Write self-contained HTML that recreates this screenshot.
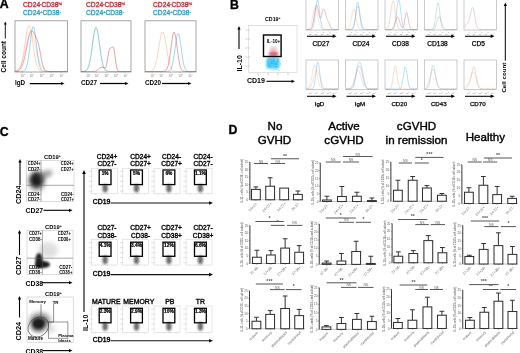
<!DOCTYPE html>
<html><head><meta charset="utf-8"><style>
html,body{margin:0;padding:0;background:#fff;}
body{width:520px;height:353px;overflow:hidden;}
svg{display:block;font-family:"Liberation Sans", sans-serif;filter:blur(0.4px);}
</style></head><body>
<svg width="520" height="353" viewBox="0 0 520 353">
<defs>
<filter id="blur08" x="-50%" y="-50%" width="200%" height="200%"><feGaussianBlur stdDeviation="0.8"/></filter>
<filter id="blur1" x="-50%" y="-50%" width="200%" height="200%"><feGaussianBlur stdDeviation="1.2"/></filter>
<filter id="blur2" x="-50%" y="-50%" width="200%" height="200%"><feGaussianBlur stdDeviation="2"/></filter>
</defs>
<rect width="520" height="353" fill="#fff"/>
<text x="-0.3" y="8.4" font-size="12.3" font-weight="bold" fill="#000" text-anchor="start" stroke="#000" stroke-width="0.35">A</text>
<text x="23" y="7.4" font-size="6.7" fill="#c42a34" stroke="#c42a34" stroke-width="0.3">CD24<tspan font-size="4" dy="-2.4">-</tspan><tspan dy="2.4">CD38</tspan><tspan font-size="4" dy="-2.4">hi</tspan></text>
<text x="23" y="15" font-size="6.7" fill="#2a9ccc" stroke="#2a9ccc" stroke-width="0.3">CD24<tspan font-size="4" dy="-2.4">+</tspan><tspan dy="2.4">CD38</tspan><tspan font-size="4" dy="-2.4">-</tspan></text>
<rect x="15" y="20.8" width="52.5" height="51.2" stroke="#808080" stroke-width="0.7" fill="none"/>
<line x1="22.35" y1="72" x2="22.35" y2="73.2" stroke="#999" stroke-width="0.5"/>
<text x="20.75" y="76.60" font-size="2.8" fill="#777">10<tspan font-size="1.96" dy="-1.2">0</tspan></text>
<line x1="31.275" y1="72" x2="31.275" y2="73.2" stroke="#999" stroke-width="0.5"/>
<text x="29.67" y="76.60" font-size="2.8" fill="#777">10<tspan font-size="1.96" dy="-1.2">1</tspan></text>
<line x1="41.25" y1="72" x2="41.25" y2="73.2" stroke="#999" stroke-width="0.5"/>
<text x="39.65" y="76.60" font-size="2.8" fill="#777">10<tspan font-size="1.96" dy="-1.2">2</tspan></text>
<line x1="51.224999999999994" y1="72" x2="51.224999999999994" y2="73.2" stroke="#999" stroke-width="0.5"/>
<text x="49.62" y="76.60" font-size="2.8" fill="#777">10<tspan font-size="1.96" dy="-1.2">3</tspan></text>
<line x1="61.2" y1="72" x2="61.2" y2="73.2" stroke="#999" stroke-width="0.5"/>
<text x="59.60" y="76.60" font-size="2.8" fill="#777">10<tspan font-size="1.96" dy="-1.2">4</tspan></text>
<text x="15" y="84.5" font-size="6.3" font-weight="bold" fill="#000" text-anchor="start">IgD</text>
<text x="86" y="7.4" font-size="6.7" fill="#c42a34" stroke="#c42a34" stroke-width="0.3">CD24<tspan font-size="4" dy="-2.4">-</tspan><tspan dy="2.4">CD38</tspan><tspan font-size="4" dy="-2.4">hi</tspan></text>
<text x="86" y="15" font-size="6.7" fill="#2a9ccc" stroke="#2a9ccc" stroke-width="0.3">CD24<tspan font-size="4" dy="-2.4">+</tspan><tspan dy="2.4">CD38</tspan><tspan font-size="4" dy="-2.4">-</tspan></text>
<rect x="81" y="20.8" width="50" height="51.2" stroke="#808080" stroke-width="0.7" fill="none"/>
<line x1="88.0" y1="72" x2="88.0" y2="73.2" stroke="#999" stroke-width="0.5"/>
<text x="86.40" y="76.60" font-size="2.8" fill="#777">10<tspan font-size="1.96" dy="-1.2">0</tspan></text>
<line x1="96.5" y1="72" x2="96.5" y2="73.2" stroke="#999" stroke-width="0.5"/>
<text x="94.90" y="76.60" font-size="2.8" fill="#777">10<tspan font-size="1.96" dy="-1.2">1</tspan></text>
<line x1="106.0" y1="72" x2="106.0" y2="73.2" stroke="#999" stroke-width="0.5"/>
<text x="104.40" y="76.60" font-size="2.8" fill="#777">10<tspan font-size="1.96" dy="-1.2">2</tspan></text>
<line x1="115.5" y1="72" x2="115.5" y2="73.2" stroke="#999" stroke-width="0.5"/>
<text x="113.90" y="76.60" font-size="2.8" fill="#777">10<tspan font-size="1.96" dy="-1.2">3</tspan></text>
<line x1="125.0" y1="72" x2="125.0" y2="73.2" stroke="#999" stroke-width="0.5"/>
<text x="123.40" y="76.60" font-size="2.8" fill="#777">10<tspan font-size="1.96" dy="-1.2">4</tspan></text>
<text x="81" y="84.5" font-size="6.3" font-weight="bold" fill="#000" text-anchor="start">CD27</text>
<text x="153" y="7.4" font-size="6.7" fill="#c42a34" stroke="#c42a34" stroke-width="0.3">CD24<tspan font-size="4" dy="-2.4">-</tspan><tspan dy="2.4">CD38</tspan><tspan font-size="4" dy="-2.4">hi</tspan></text>
<text x="153" y="15" font-size="6.7" fill="#2a9ccc" stroke="#2a9ccc" stroke-width="0.3">CD24<tspan font-size="4" dy="-2.4">+</tspan><tspan dy="2.4">CD38</tspan><tspan font-size="4" dy="-2.4">-</tspan></text>
<rect x="145" y="20.8" width="51" height="51.2" stroke="#808080" stroke-width="0.7" fill="none"/>
<line x1="152.14" y1="72" x2="152.14" y2="73.2" stroke="#999" stroke-width="0.5"/>
<text x="150.54" y="76.60" font-size="2.8" fill="#777">10<tspan font-size="1.96" dy="-1.2">0</tspan></text>
<line x1="160.81" y1="72" x2="160.81" y2="73.2" stroke="#999" stroke-width="0.5"/>
<text x="159.21" y="76.60" font-size="2.8" fill="#777">10<tspan font-size="1.96" dy="-1.2">1</tspan></text>
<line x1="170.5" y1="72" x2="170.5" y2="73.2" stroke="#999" stroke-width="0.5"/>
<text x="168.90" y="76.60" font-size="2.8" fill="#777">10<tspan font-size="1.96" dy="-1.2">2</tspan></text>
<line x1="180.19" y1="72" x2="180.19" y2="73.2" stroke="#999" stroke-width="0.5"/>
<text x="178.59" y="76.60" font-size="2.8" fill="#777">10<tspan font-size="1.96" dy="-1.2">3</tspan></text>
<line x1="189.88" y1="72" x2="189.88" y2="73.2" stroke="#999" stroke-width="0.5"/>
<text x="188.28" y="76.60" font-size="2.8" fill="#777">10<tspan font-size="1.96" dy="-1.2">4</tspan></text>
<text x="145" y="84.5" font-size="6.3" font-weight="bold" fill="#000" text-anchor="start">CD20</text>
<path d="M15.00,71.42 L15.66,71.35 L16.31,71.25 L16.97,71.07 L17.62,70.80 L18.28,70.38 L18.94,69.76 L19.59,68.88 L20.25,67.65 L20.91,65.99 L21.56,63.84 L22.22,61.14 L22.88,57.88 L23.53,54.08 L24.19,49.83 L24.84,45.28 L25.50,40.65 L26.16,36.19 L26.81,32.19 L27.47,28.94 L28.12,26.68 L28.78,25.60 L29.44,25.78 L30.09,27.20 L30.75,29.76 L31.41,33.25 L32.06,37.40 L32.72,41.94 L33.38,46.57 L34.03,51.06 L34.69,55.20 L35.34,58.85 L36.00,61.96 L36.66,64.50 L37.31,66.50 L37.97,68.03 L38.62,69.16 L39.28,69.96 L39.94,70.52 L40.59,70.89 L41.25,71.13 L41.91,71.28 L42.56,71.38 L43.22,71.43 L43.88,71.46 L44.53,71.48 L45.19,71.49 L45.84,71.50 L46.50,71.50 L47.16,71.50 L47.81,71.50 L48.47,71.50 L49.12,71.50 L49.78,71.50 L50.44,71.50 L51.09,71.50 L51.75,71.50 L52.41,71.50 L53.06,71.50 L53.72,71.50 L54.38,71.50 L55.03,71.50 L55.69,71.50 L56.34,71.50 L57.00,71.50 L57.66,71.50 L58.31,71.50 L58.97,71.50 L59.62,71.50 L60.28,71.50 L60.94,71.50 L61.59,71.50 L62.25,71.50 L62.91,71.50 L63.56,71.50 L64.22,71.50 L64.88,71.50 L65.53,71.50 L66.19,71.50 L66.84,71.50 L67.50,71.50" fill="none" stroke="#f0a060" stroke-width="0.6" opacity="0.7"/>
<path d="M15.00,71.50 L15.66,71.50 L16.31,71.50 L16.97,71.50 L17.62,71.50 L18.28,71.50 L18.94,71.50 L19.59,71.50 L20.25,71.49 L20.91,71.48 L21.56,71.45 L22.22,71.40 L22.88,71.29 L23.53,71.10 L24.19,70.76 L24.84,70.18 L25.50,69.26 L26.16,67.85 L26.81,65.80 L27.47,62.98 L28.12,59.30 L28.78,54.79 L29.44,49.57 L30.09,43.94 L30.75,38.35 L31.41,33.31 L32.06,29.37 L32.72,27.00 L33.38,26.50 L34.03,27.92 L34.69,31.09 L35.34,35.62 L36.00,41.00 L36.66,46.67 L37.31,52.15 L37.97,57.05 L38.62,61.18 L39.28,64.44 L39.94,66.87 L40.59,68.60 L41.25,69.76 L41.91,70.50 L42.56,70.95 L43.22,71.21 L43.88,71.35 L44.53,71.43 L45.19,71.47 L45.84,71.49 L46.50,71.49 L47.16,71.50 L47.81,71.50 L48.47,71.50 L49.12,71.50 L49.78,71.50 L50.44,71.50 L51.09,71.50 L51.75,71.50 L52.41,71.50 L53.06,71.50 L53.72,71.50 L54.38,71.50 L55.03,71.50 L55.69,71.50 L56.34,71.50 L57.00,71.50 L57.66,71.50 L58.31,71.50 L58.97,71.50 L59.62,71.50 L60.28,71.50 L60.94,71.50 L61.59,71.50 L62.25,71.50 L62.91,71.50 L63.56,71.50 L64.22,71.50 L64.88,71.50 L65.53,71.50 L66.19,71.50 L66.84,71.50 L67.50,71.50" fill="none" stroke="#2a9ccc" stroke-width="0.6" opacity="0.7"/>
<path d="M15.00,71.41 L15.66,71.35 L16.31,71.27 L16.97,71.14 L17.62,70.95 L18.28,70.68 L18.94,70.31 L19.59,69.79 L20.25,69.10 L20.91,68.20 L21.56,67.04 L22.22,65.58 L22.88,63.81 L23.53,61.68 L24.19,59.22 L24.84,56.43 L25.50,53.35 L26.16,50.07 L26.81,46.68 L27.47,43.29 L28.12,40.06 L28.78,37.12 L29.44,34.62 L30.09,32.67 L30.75,31.35 L31.41,30.70 L32.06,30.70 L32.72,31.25 L33.38,32.22 L34.03,33.43 L34.69,34.73 L35.34,36.01 L36.00,37.26 L36.66,38.57 L37.31,40.08 L37.97,41.98 L38.62,44.41 L39.28,47.39 L39.94,50.83 L40.59,54.49 L41.25,58.12 L41.91,61.46 L42.56,64.31 L43.22,66.58 L43.88,68.28 L44.53,69.48 L45.19,70.27 L45.84,70.78 L46.50,71.08 L47.16,71.26 L47.81,71.37 L48.47,71.42 L49.12,71.46 L49.78,71.48 L50.44,71.49 L51.09,71.49 L51.75,71.50 L52.41,71.50 L53.06,71.50 L53.72,71.50 L54.38,71.50 L55.03,71.50 L55.69,71.50 L56.34,71.50 L57.00,71.50 L57.66,71.50 L58.31,71.50 L58.97,71.50 L59.62,71.50 L60.28,71.50 L60.94,71.50 L61.59,71.50 L62.25,71.50 L62.91,71.50 L63.56,71.50 L64.22,71.50 L64.88,71.50 L65.53,71.50 L66.19,71.50 L66.84,71.50 L67.50,71.50" fill="none" stroke="#c42a34" stroke-width="0.6" opacity="0.7"/>
<path d="M15.00,71.07 L15.66,70.88 L16.31,70.62 L16.97,70.27 L17.62,69.81 L18.28,69.21 L18.94,68.44 L19.59,67.47 L20.25,66.29 L20.91,64.86 L21.56,63.17 L22.22,61.22 L22.88,59.00 L23.53,56.54 L24.19,53.87 L24.84,51.05 L25.50,48.15 L26.16,45.25 L26.81,42.44 L27.47,39.83 L28.12,37.52 L28.78,35.61 L29.44,34.18 L30.09,33.30 L30.75,33.00 L31.41,33.30 L32.06,34.18 L32.72,35.61 L33.38,37.52 L34.03,39.83 L34.69,42.44 L35.34,45.25 L36.00,48.15 L36.66,51.05 L37.31,53.87 L37.97,56.54 L38.62,59.00 L39.28,61.22 L39.94,63.17 L40.59,64.86 L41.25,66.29 L41.91,67.47 L42.56,68.44 L43.22,69.21 L43.88,69.81 L44.53,70.27 L45.19,70.62 L45.84,70.88 L46.50,71.07 L47.16,71.21 L47.81,71.30 L48.47,71.37 L49.12,71.42 L49.78,71.45 L50.44,71.47 L51.09,71.48 L51.75,71.49 L52.41,71.49 L53.06,71.50 L53.72,71.50 L54.38,71.50 L55.03,71.50 L55.69,71.50 L56.34,71.50 L57.00,71.50 L57.66,71.50 L58.31,71.50 L58.97,71.50 L59.62,71.50 L60.28,71.50 L60.94,71.50 L61.59,71.50 L62.25,71.50 L62.91,71.50 L63.56,71.50 L64.22,71.50 L64.88,71.50 L65.53,71.50 L66.19,71.50 L66.84,71.50 L67.50,71.50" fill="none" stroke="#d88090" stroke-width="0.5" opacity="0.5"/>
<path d="M81.00,71.50 L81.62,71.49 L82.25,71.48 L82.88,71.46 L83.50,71.42 L84.12,71.36 L84.75,71.25 L85.38,71.06 L86.00,70.75 L86.62,70.28 L87.25,69.56 L87.88,68.51 L88.50,67.05 L89.12,65.08 L89.75,62.53 L90.38,59.35 L91.00,55.57 L91.62,51.26 L92.25,46.60 L92.88,41.83 L93.50,37.25 L94.12,33.21 L94.75,30.03 L95.38,28.00 L96.00,27.30 L96.62,28.00 L97.25,30.03 L97.88,33.21 L98.50,37.25 L99.12,41.83 L99.75,46.60 L100.38,51.26 L101.00,55.57 L101.62,59.35 L102.25,62.53 L102.88,65.08 L103.50,67.05 L104.12,68.51 L104.75,69.56 L105.38,70.28 L106.00,70.75 L106.62,71.06 L107.25,71.25 L107.88,71.36 L108.50,71.42 L109.12,71.46 L109.75,71.48 L110.38,71.49 L111.00,71.50 L111.62,71.50 L112.25,71.50 L112.88,71.50 L113.50,71.50 L114.12,71.50 L114.75,71.50 L115.38,71.50 L116.00,71.50 L116.62,71.50 L117.25,71.50 L117.88,71.50 L118.50,71.50 L119.12,71.50 L119.75,71.50 L120.38,71.50 L121.00,71.50 L121.62,71.50 L122.25,71.50 L122.88,71.50 L123.50,71.50 L124.12,71.50 L124.75,71.50 L125.38,71.50 L126.00,71.50 L126.62,71.50 L127.25,71.50 L127.88,71.50 L128.50,71.50 L129.12,71.50 L129.75,71.50 L130.38,71.50 L131.00,71.50" fill="none" stroke="#2a9ccc" stroke-width="0.6" opacity="0.7"/>
<path d="M81.00,71.49 L81.62,71.47 L82.25,71.45 L82.88,71.40 L83.50,71.33 L84.12,71.21 L84.75,71.02 L85.38,70.71 L86.00,70.26 L86.62,69.59 L87.25,68.64 L87.88,67.34 L88.50,65.61 L89.12,63.40 L89.75,60.65 L90.38,57.38 L91.00,53.62 L91.62,49.47 L92.25,45.12 L92.88,40.76 L93.50,36.67 L94.12,33.11 L94.75,30.35 L95.38,28.60 L96.00,28.00 L96.62,28.60 L97.25,30.35 L97.88,33.11 L98.50,36.67 L99.12,40.76 L99.75,45.12 L100.38,49.47 L101.00,53.62 L101.62,57.38 L102.25,60.65 L102.88,63.40 L103.50,65.61 L104.12,67.34 L104.75,68.64 L105.38,69.59 L106.00,70.26 L106.62,70.71 L107.25,71.02 L107.88,71.21 L108.50,71.33 L109.12,71.40 L109.75,71.45 L110.38,71.47 L111.00,71.49 L111.62,71.49 L112.25,71.50 L112.88,71.50 L113.50,71.50 L114.12,71.50 L114.75,71.50 L115.38,71.50 L116.00,71.50 L116.62,71.50 L117.25,71.50 L117.88,71.50 L118.50,71.50 L119.12,71.50 L119.75,71.50 L120.38,71.50 L121.00,71.50 L121.62,71.50 L122.25,71.50 L122.88,71.50 L123.50,71.50 L124.12,71.50 L124.75,71.50 L125.38,71.50 L126.00,71.50 L126.62,71.50 L127.25,71.50 L127.88,71.50 L128.50,71.50 L129.12,71.50 L129.75,71.50 L130.38,71.50 L131.00,71.50" fill="none" stroke="#6cc08a" stroke-width="0.5" opacity="0.6"/>
<path d="M81.00,71.50 L81.62,71.50 L82.25,71.50 L82.88,71.50 L83.50,71.50 L84.12,71.50 L84.75,71.50 L85.38,71.50 L86.00,71.50 L86.62,71.50 L87.25,71.50 L87.88,71.50 L88.50,71.50 L89.12,71.50 L89.75,71.50 L90.38,71.50 L91.00,71.49 L91.62,71.49 L92.25,71.48 L92.88,71.46 L93.50,71.42 L94.12,71.36 L94.75,71.26 L95.38,71.12 L96.00,70.91 L96.62,70.62 L97.25,70.25 L97.88,69.80 L98.50,69.28 L99.12,68.73 L99.75,68.19 L100.38,67.71 L101.00,67.35 L101.62,67.15 L102.25,67.13 L102.88,67.27 L103.50,67.55 L104.12,67.84 L104.75,67.95 L105.38,67.59 L106.00,66.42 L106.62,64.17 L107.25,60.86 L107.88,56.93 L108.50,53.15 L109.12,50.29 L109.75,48.65 L110.38,48.02 L111.00,47.82 L111.62,47.54 L112.25,47.05 L112.88,46.80 L113.50,47.56 L114.12,49.98 L114.75,54.02 L115.38,58.91 L116.00,63.54 L116.62,67.11 L117.25,69.39 L117.88,70.62 L118.50,71.18 L119.12,71.40 L119.75,71.47 L120.38,71.49 L121.00,71.50 L121.62,71.50 L122.25,71.50 L122.88,71.50 L123.50,71.50 L124.12,71.50 L124.75,71.50 L125.38,71.50 L126.00,71.50 L126.62,71.50 L127.25,71.50 L127.88,71.50 L128.50,71.50 L129.12,71.50 L129.75,71.50 L130.38,71.50 L131.00,71.50" fill="none" stroke="#c42a34" stroke-width="0.6" opacity="0.7"/>
<path d="M145.00,71.50 L145.64,71.50 L146.28,71.50 L146.91,71.49 L147.55,71.48 L148.19,71.47 L148.82,71.44 L149.46,71.40 L150.10,71.32 L150.74,71.19 L151.38,70.99 L152.01,70.67 L152.65,70.20 L153.29,69.52 L153.93,68.56 L154.56,67.26 L155.20,65.55 L155.84,63.39 L156.47,60.73 L157.11,57.61 L157.75,54.06 L158.39,50.22 L159.03,46.23 L159.66,42.32 L160.30,38.73 L160.94,35.70 L161.57,33.46 L162.21,32.20 L162.85,32.00 L163.49,32.89 L164.12,34.79 L164.76,37.56 L165.40,40.98 L166.04,44.80 L166.68,48.79 L167.31,52.71 L167.95,56.38 L168.59,59.66 L169.22,62.49 L169.86,64.83 L170.50,66.70 L171.14,68.13 L171.78,69.21 L172.41,69.98 L173.05,70.52 L173.69,70.89 L174.32,71.13 L174.96,71.28 L175.60,71.37 L176.24,71.43 L176.88,71.46 L177.51,71.48 L178.15,71.49 L178.79,71.49 L179.43,71.50 L180.06,71.50 L180.70,71.50 L181.34,71.50 L181.97,71.50 L182.61,71.50 L183.25,71.50 L183.89,71.50 L184.53,71.50 L185.16,71.50 L185.80,71.50 L186.44,71.50 L187.07,71.50 L187.71,71.50 L188.35,71.50 L188.99,71.50 L189.62,71.50 L190.26,71.50 L190.90,71.50 L191.54,71.50 L192.18,71.50 L192.81,71.50 L193.45,71.50 L194.09,71.50 L194.72,71.50 L195.36,71.50 L196.00,71.50" fill="none" stroke="#f0a060" stroke-width="0.6" opacity="0.7"/>
<path d="M145.00,71.50 L145.64,71.50 L146.28,71.50 L146.91,71.50 L147.55,71.50 L148.19,71.50 L148.82,71.50 L149.46,71.50 L150.10,71.50 L150.74,71.50 L151.38,71.50 L152.01,71.50 L152.65,71.50 L153.29,71.50 L153.93,71.50 L154.56,71.50 L155.20,71.50 L155.84,71.50 L156.47,71.50 L157.11,71.50 L157.75,71.50 L158.39,71.50 L159.03,71.50 L159.66,71.50 L160.30,71.50 L160.94,71.50 L161.57,71.49 L162.21,71.48 L162.85,71.45 L163.49,71.40 L164.12,71.30 L164.76,71.12 L165.40,70.79 L166.04,70.25 L166.68,69.38 L167.31,68.07 L167.95,66.19 L168.59,63.62 L169.22,60.30 L169.86,56.25 L170.50,51.63 L171.14,46.71 L171.78,41.88 L172.41,37.62 L173.05,34.38 L173.69,32.57 L174.32,32.40 L174.96,33.90 L175.60,36.87 L176.24,40.97 L176.88,45.72 L177.51,50.66 L178.15,55.37 L178.79,59.54 L179.43,63.01 L180.06,65.73 L180.70,67.75 L181.34,69.16 L181.97,70.11 L182.61,70.70 L183.25,71.06 L183.89,71.27 L184.53,71.39 L185.16,71.45 L185.80,71.47 L186.44,71.49 L187.07,71.50 L187.71,71.50 L188.35,71.50 L188.99,71.50 L189.62,71.50 L190.26,71.50 L190.90,71.50 L191.54,71.50 L192.18,71.50 L192.81,71.50 L193.45,71.50 L194.09,71.50 L194.72,71.50 L195.36,71.50 L196.00,71.50" fill="none" stroke="#c42a34" stroke-width="0.6" opacity="0.7"/>
<path d="M145.00,71.50 L145.64,71.50 L146.28,71.50 L146.91,71.50 L147.55,71.50 L148.19,71.50 L148.82,71.50 L149.46,71.50 L150.10,71.50 L150.74,71.50 L151.38,71.50 L152.01,71.50 L152.65,71.50 L153.29,71.50 L153.93,71.50 L154.56,71.50 L155.20,71.50 L155.84,71.50 L156.47,71.50 L157.11,71.50 L157.75,71.50 L158.39,71.50 L159.03,71.50 L159.66,71.50 L160.30,71.50 L160.94,71.50 L161.57,71.50 L162.21,71.50 L162.85,71.50 L163.49,71.50 L164.12,71.50 L164.76,71.50 L165.40,71.49 L166.04,71.48 L166.68,71.47 L167.31,71.43 L167.95,71.35 L168.59,71.21 L169.22,70.96 L169.86,70.52 L170.50,69.82 L171.14,68.74 L171.78,67.14 L172.41,64.91 L173.05,61.97 L173.69,58.31 L174.32,54.01 L174.96,49.30 L175.60,44.51 L176.24,40.08 L176.88,36.48 L177.51,34.12 L178.15,33.30 L178.79,34.12 L179.43,36.48 L180.06,40.08 L180.70,44.51 L181.34,49.30 L181.97,54.01 L182.61,58.31 L183.25,61.97 L183.89,64.91 L184.53,67.14 L185.16,68.74 L185.80,69.82 L186.44,70.52 L187.07,70.96 L187.71,71.21 L188.35,71.35 L188.99,71.43 L189.62,71.47 L190.26,71.48 L190.90,71.49 L191.54,71.50 L192.18,71.50 L192.81,71.50 L193.45,71.50 L194.09,71.50 L194.72,71.50 L195.36,71.50 L196.00,71.50" fill="none" stroke="#2a9ccc" stroke-width="0.6" opacity="0.7"/>
<text x="6" y="72.4" font-size="6.5" font-weight="bold" fill="#000" text-anchor="start" transform="rotate(-90 6 72.4)">Cell count</text>
<line x1="5.3" y1="38.5" x2="5.3" y2="24.0" stroke="#000" stroke-width="0.9"/>
<path d="M5.3,21.5 L3.9,24.5 L6.699999999999999,24.5 Z" fill="#000"/>
<line x1="29.8" y1="83.5" x2="61.5" y2="83.5" stroke="#000" stroke-width="1.25"/>
<path d="M64.5,83.5 L61.0,81.9 L61.0,85.1 Z" fill="#000"/>
<line x1="100" y1="83.5" x2="125.5" y2="83.5" stroke="#000" stroke-width="1.25"/>
<path d="M128.5,83.5 L125.0,81.9 L125.0,85.1 Z" fill="#000"/>
<line x1="162" y1="83.5" x2="188.5" y2="83.5" stroke="#000" stroke-width="1.25"/>
<path d="M191.5,83.5 L188.0,81.9 L188.0,85.1 Z" fill="#000"/>
<text x="230" y="9.3" font-size="12.3" font-weight="bold" fill="#000" text-anchor="start" stroke="#000" stroke-width="0.35">B</text>
<text x="265" y="21" font-size="5.3" font-weight="bold">CD19<tspan font-size="3.4" dy="-2">+</tspan></text>
<rect x="248.5" y="25.5" width="48.5" height="47" stroke="#c8c8c8" stroke-width="0.5" fill="none"/>
<rect x="266.5" y="57.5" width="13" height="11" rx="3" fill="#34c2f0" filter="url(#blur08)"/>
<rect x="269.45" y="64.30" width="0.8" height="0.8" fill="#9ee0f8"/>
<rect x="271.36" y="65.05" width="0.8" height="0.8" fill="#9ee0f8"/>
<rect x="275.07" y="58.32" width="0.8" height="0.8" fill="#9ee0f8"/>
<rect x="266.19" y="67.97" width="0.8" height="0.8" fill="#9ee0f8"/>
<rect x="269.76" y="60.43" width="0.8" height="0.8" fill="#9ee0f8"/>
<rect x="280.44" y="63.38" width="0.8" height="0.8" fill="#9ee0f8"/>
<rect x="278.13" y="63.45" width="0.8" height="0.8" fill="#9ee0f8"/>
<rect x="275.27" y="59.38" width="0.8" height="0.8" fill="#9ee0f8"/>
<rect x="275.21" y="68.35" width="0.8" height="0.8" fill="#9ee0f8"/>
<rect x="273.59" y="66.77" width="0.8" height="0.8" fill="#9ee0f8"/>
<rect x="275.74" y="58.30" width="0.8" height="0.8" fill="#9ee0f8"/>
<rect x="276.99" y="64.89" width="0.8" height="0.8" fill="#9ee0f8"/>
<rect x="270.37" y="57.89" width="0.8" height="0.8" fill="#9ee0f8"/>
<rect x="278.55" y="63.41" width="0.8" height="0.8" fill="#9ee0f8"/>
<rect x="276.42" y="68.49" width="0.8" height="0.8" fill="#9ee0f8"/>
<rect x="276.35" y="69.01" width="0.8" height="0.8" fill="#9ee0f8"/>
<rect x="271.73" y="67.51" width="0.8" height="0.8" fill="#9ee0f8"/>
<rect x="272.45" y="69.19" width="0.8" height="0.8" fill="#9ee0f8"/>
<rect x="278.74" y="58.72" width="0.8" height="0.8" fill="#9ee0f8"/>
<rect x="267.97" y="60.21" width="0.8" height="0.8" fill="#9ee0f8"/>
<rect x="280.00" y="62.95" width="0.8" height="0.8" fill="#9ee0f8"/>
<rect x="275.09" y="61.26" width="0.8" height="0.8" fill="#9ee0f8"/>
<rect x="273.36" y="62.32" width="0.8" height="0.8" fill="#9ee0f8"/>
<rect x="271.09" y="64.81" width="0.8" height="0.8" fill="#9ee0f8"/>
<rect x="274.47" y="68.80" width="0.8" height="0.8" fill="#9ee0f8"/>
<rect x="275.89" y="69.11" width="0.8" height="0.8" fill="#9ee0f8"/>
<rect x="278.42" y="69.89" width="0.8" height="0.8" fill="#9ee0f8"/>
<rect x="275.73" y="59.54" width="0.8" height="0.8" fill="#9ee0f8"/>
<rect x="278.48" y="69.56" width="0.8" height="0.8" fill="#9ee0f8"/>
<rect x="279.12" y="64.61" width="0.8" height="0.8" fill="#9ee0f8"/>
<rect x="276.35" y="60.14" width="0.8" height="0.8" fill="#9ee0f8"/>
<rect x="278.06" y="64.67" width="0.8" height="0.8" fill="#9ee0f8"/>
<rect x="270.13" y="58.29" width="0.8" height="0.8" fill="#9ee0f8"/>
<rect x="278.38" y="69.87" width="0.8" height="0.8" fill="#9ee0f8"/>
<rect x="267.28" y="67.51" width="0.8" height="0.8" fill="#9ee0f8"/>
<rect x="271.95" y="59.38" width="0.8" height="0.8" fill="#9ee0f8"/>
<rect x="270.26" y="67.11" width="0.8" height="0.8" fill="#9ee0f8"/>
<rect x="278.66" y="58.05" width="0.8" height="0.8" fill="#9ee0f8"/>
<rect x="274.91" y="58.06" width="0.8" height="0.8" fill="#9ee0f8"/>
<rect x="276.42" y="61.64" width="0.8" height="0.8" fill="#9ee0f8"/>
<rect x="278.77" y="69.76" width="0.8" height="0.8" fill="#9ee0f8"/>
<rect x="273.33" y="69.98" width="0.8" height="0.8" fill="#9ee0f8"/>
<rect x="270.49" y="58.46" width="0.8" height="0.8" fill="#9ee0f8"/>
<rect x="274.70" y="57.89" width="0.8" height="0.8" fill="#9ee0f8"/>
<rect x="268.86" y="62.60" width="0.8" height="0.8" fill="#9ee0f8"/>
<rect x="274.85" y="59.45" width="0.8" height="0.8" fill="#9ee0f8"/>
<rect x="266.62" y="68.35" width="0.8" height="0.8" fill="#9ee0f8"/>
<rect x="270.55" y="69.48" width="0.8" height="0.8" fill="#9ee0f8"/>
<rect x="279.00" y="62.22" width="0.8" height="0.8" fill="#9ee0f8"/>
<rect x="272.68" y="64.00" width="0.8" height="0.8" fill="#9ee0f8"/>
<rect x="275.34" y="64.95" width="0.8" height="0.8" fill="#9ee0f8"/>
<rect x="274.11" y="65.25" width="0.8" height="0.8" fill="#9ee0f8"/>
<rect x="279.64" y="63.84" width="0.8" height="0.8" fill="#9ee0f8"/>
<rect x="272.25" y="66.50" width="0.8" height="0.8" fill="#9ee0f8"/>
<rect x="269.45" y="61.26" width="0.8" height="0.8" fill="#9ee0f8"/>
<rect x="280.18" y="64.01" width="0.8" height="0.8" fill="#9ee0f8"/>
<rect x="273.95" y="57.64" width="0.8" height="0.8" fill="#9ee0f8"/>
<rect x="272.02" y="64.75" width="0.8" height="0.8" fill="#9ee0f8"/>
<rect x="266.29" y="65.20" width="0.8" height="0.8" fill="#9ee0f8"/>
<rect x="275.17" y="58.25" width="0.8" height="0.8" fill="#9ee0f8"/>
<ellipse cx="273.5" cy="49.5" rx="4" ry="3" fill="#e8a0a8" opacity="0.55" filter="url(#blur08)"/>
<ellipse cx="273.5" cy="54" rx="4.8" ry="2.4" fill="#cc3048" opacity="0.75" filter="url(#blur08)"/>
<rect x="263.5" y="35" width="17.6" height="21.5" stroke="#000" stroke-width="1.4" fill="none"/>
<text x="266.8" y="42.5" font-size="4.6" font-weight="bold" fill="#000" text-anchor="start">IL-10+</text>
<line x1="248.5" y1="30" x2="250" y2="30" stroke="#999" stroke-width="0.5"/>
<rect x="245.5" y="29.5" width="2" height="1" fill="#ccc"/>
<line x1="248.5" y1="39" x2="250" y2="39" stroke="#999" stroke-width="0.5"/>
<rect x="245.5" y="38.5" width="2" height="1" fill="#ccc"/>
<line x1="248.5" y1="48" x2="250" y2="48" stroke="#999" stroke-width="0.5"/>
<rect x="245.5" y="47.5" width="2" height="1" fill="#ccc"/>
<line x1="248.5" y1="57" x2="250" y2="57" stroke="#999" stroke-width="0.5"/>
<rect x="245.5" y="56.5" width="2" height="1" fill="#ccc"/>
<line x1="248.5" y1="66" x2="250" y2="66" stroke="#999" stroke-width="0.5"/>
<rect x="245.5" y="65.5" width="2" height="1" fill="#ccc"/>
<rect x="257" y="73.5" width="2" height="1" fill="#ccc"/>
<rect x="267" y="73.5" width="2" height="1" fill="#ccc"/>
<rect x="277" y="73.5" width="2" height="1" fill="#ccc"/>
<rect x="287" y="73.5" width="2" height="1" fill="#ccc"/>
<line x1="239" y1="49" x2="239" y2="29.0" stroke="#000" stroke-width="1.1"/>
<path d="M239,26 L237.4,29.5 L240.6,29.5 Z" fill="#000"/>
<text x="241.7" y="71.5" font-size="7" font-weight="bold" fill="#000" text-anchor="start" transform="rotate(-90 241.7 71.5)">IL-10</text>
<text x="247" y="83.3" font-size="7" font-weight="bold" fill="#000" text-anchor="start">CD19</text>
<line x1="266.5" y1="81.3" x2="292.0" y2="81.3" stroke="#000" stroke-width="1.1"/>
<path d="M295,81.3 L291.5,79.7 L291.5,82.89999999999999 Z" fill="#000"/>
<rect x="306" y="-1" width="32.5" height="31" stroke="#a8a8a8" stroke-width="0.6" fill="none"/>
<rect x="306" y="60" width="32.5" height="29.5" stroke="#a8a8a8" stroke-width="0.6" fill="none"/>
<line x1="310.55" y1="30" x2="310.55" y2="31.2" stroke="#c0c0c0" stroke-width="0.5"/>
<text x="308.95" y="34.60" font-size="2.3" fill="#777">10<tspan font-size="1.61" dy="-1.2">0</tspan></text>
<line x1="316.075" y1="30" x2="316.075" y2="31.2" stroke="#c0c0c0" stroke-width="0.5"/>
<text x="314.47" y="34.60" font-size="2.3" fill="#777">10<tspan font-size="1.61" dy="-1.2">1</tspan></text>
<line x1="322.25" y1="30" x2="322.25" y2="31.2" stroke="#c0c0c0" stroke-width="0.5"/>
<text x="320.65" y="34.60" font-size="2.3" fill="#777">10<tspan font-size="1.61" dy="-1.2">2</tspan></text>
<line x1="328.425" y1="30" x2="328.425" y2="31.2" stroke="#c0c0c0" stroke-width="0.5"/>
<text x="326.82" y="34.60" font-size="2.3" fill="#777">10<tspan font-size="1.61" dy="-1.2">3</tspan></text>
<line x1="334.6" y1="30" x2="334.6" y2="31.2" stroke="#c0c0c0" stroke-width="0.5"/>
<text x="333.00" y="34.60" font-size="2.3" fill="#777">10<tspan font-size="1.61" dy="-1.2">4</tspan></text>
<line x1="310.55" y1="89.5" x2="310.55" y2="90.7" stroke="#c0c0c0" stroke-width="0.5"/>
<text x="308.95" y="94.10" font-size="2.3" fill="#777">10<tspan font-size="1.61" dy="-1.2">0</tspan></text>
<line x1="316.075" y1="89.5" x2="316.075" y2="90.7" stroke="#c0c0c0" stroke-width="0.5"/>
<text x="314.47" y="94.10" font-size="2.3" fill="#777">10<tspan font-size="1.61" dy="-1.2">1</tspan></text>
<line x1="322.25" y1="89.5" x2="322.25" y2="90.7" stroke="#c0c0c0" stroke-width="0.5"/>
<text x="320.65" y="94.10" font-size="2.3" fill="#777">10<tspan font-size="1.61" dy="-1.2">2</tspan></text>
<line x1="328.425" y1="89.5" x2="328.425" y2="90.7" stroke="#c0c0c0" stroke-width="0.5"/>
<text x="326.82" y="94.10" font-size="2.3" fill="#777">10<tspan font-size="1.61" dy="-1.2">3</tspan></text>
<line x1="334.6" y1="89.5" x2="334.6" y2="90.7" stroke="#c0c0c0" stroke-width="0.5"/>
<text x="333.00" y="94.10" font-size="2.3" fill="#777">10<tspan font-size="1.61" dy="-1.2">4</tspan></text>
<line x1="307" y1="36.3" x2="333.2" y2="36.3" stroke="#000" stroke-width="1.05"/>
<path d="M336.5,36.3 L332.7,34.599999999999994 L332.7,38.0 Z" fill="#000"/>
<line x1="307" y1="96.3" x2="333.2" y2="96.3" stroke="#000" stroke-width="1.05"/>
<path d="M336.5,96.3 L332.7,94.6 L332.7,98.0 Z" fill="#000"/>
<text x="321" y="46" font-size="6.6" fill="#000" text-anchor="middle" stroke="#000" stroke-width="0.25">CD27</text>
<text x="319.5" y="106" font-size="6.2" fill="#000" text-anchor="middle" stroke="#000" stroke-width="0.25">IgD</text>
<rect x="345.5" y="-1" width="32.5" height="31" stroke="#a8a8a8" stroke-width="0.6" fill="none"/>
<rect x="345.5" y="60" width="32.5" height="29.5" stroke="#a8a8a8" stroke-width="0.6" fill="none"/>
<line x1="350.05" y1="30" x2="350.05" y2="31.2" stroke="#c0c0c0" stroke-width="0.5"/>
<text x="348.45" y="34.60" font-size="2.3" fill="#777">10<tspan font-size="1.61" dy="-1.2">0</tspan></text>
<line x1="355.575" y1="30" x2="355.575" y2="31.2" stroke="#c0c0c0" stroke-width="0.5"/>
<text x="353.97" y="34.60" font-size="2.3" fill="#777">10<tspan font-size="1.61" dy="-1.2">1</tspan></text>
<line x1="361.75" y1="30" x2="361.75" y2="31.2" stroke="#c0c0c0" stroke-width="0.5"/>
<text x="360.15" y="34.60" font-size="2.3" fill="#777">10<tspan font-size="1.61" dy="-1.2">2</tspan></text>
<line x1="367.925" y1="30" x2="367.925" y2="31.2" stroke="#c0c0c0" stroke-width="0.5"/>
<text x="366.32" y="34.60" font-size="2.3" fill="#777">10<tspan font-size="1.61" dy="-1.2">3</tspan></text>
<line x1="374.1" y1="30" x2="374.1" y2="31.2" stroke="#c0c0c0" stroke-width="0.5"/>
<text x="372.50" y="34.60" font-size="2.3" fill="#777">10<tspan font-size="1.61" dy="-1.2">4</tspan></text>
<line x1="350.05" y1="89.5" x2="350.05" y2="90.7" stroke="#c0c0c0" stroke-width="0.5"/>
<text x="348.45" y="94.10" font-size="2.3" fill="#777">10<tspan font-size="1.61" dy="-1.2">0</tspan></text>
<line x1="355.575" y1="89.5" x2="355.575" y2="90.7" stroke="#c0c0c0" stroke-width="0.5"/>
<text x="353.97" y="94.10" font-size="2.3" fill="#777">10<tspan font-size="1.61" dy="-1.2">1</tspan></text>
<line x1="361.75" y1="89.5" x2="361.75" y2="90.7" stroke="#c0c0c0" stroke-width="0.5"/>
<text x="360.15" y="94.10" font-size="2.3" fill="#777">10<tspan font-size="1.61" dy="-1.2">2</tspan></text>
<line x1="367.925" y1="89.5" x2="367.925" y2="90.7" stroke="#c0c0c0" stroke-width="0.5"/>
<text x="366.32" y="94.10" font-size="2.3" fill="#777">10<tspan font-size="1.61" dy="-1.2">3</tspan></text>
<line x1="374.1" y1="89.5" x2="374.1" y2="90.7" stroke="#c0c0c0" stroke-width="0.5"/>
<text x="372.50" y="94.10" font-size="2.3" fill="#777">10<tspan font-size="1.61" dy="-1.2">4</tspan></text>
<line x1="346.5" y1="36.3" x2="372.7" y2="36.3" stroke="#000" stroke-width="1.05"/>
<path d="M376.0,36.3 L372.2,34.599999999999994 L372.2,38.0 Z" fill="#000"/>
<line x1="346.5" y1="96.3" x2="372.7" y2="96.3" stroke="#000" stroke-width="1.05"/>
<path d="M376.0,96.3 L372.2,94.6 L372.2,98.0 Z" fill="#000"/>
<text x="361" y="46" font-size="6.6" fill="#000" text-anchor="middle" stroke="#000" stroke-width="0.25">CD24</text>
<text x="360" y="106" font-size="6.2" fill="#000" text-anchor="middle" stroke="#000" stroke-width="0.25">IgM</text>
<rect x="385" y="-1" width="32.5" height="31" stroke="#a8a8a8" stroke-width="0.6" fill="none"/>
<rect x="385" y="60" width="32.5" height="29.5" stroke="#a8a8a8" stroke-width="0.6" fill="none"/>
<line x1="389.55" y1="30" x2="389.55" y2="31.2" stroke="#c0c0c0" stroke-width="0.5"/>
<text x="387.95" y="34.60" font-size="2.3" fill="#777">10<tspan font-size="1.61" dy="-1.2">0</tspan></text>
<line x1="395.075" y1="30" x2="395.075" y2="31.2" stroke="#c0c0c0" stroke-width="0.5"/>
<text x="393.47" y="34.60" font-size="2.3" fill="#777">10<tspan font-size="1.61" dy="-1.2">1</tspan></text>
<line x1="401.25" y1="30" x2="401.25" y2="31.2" stroke="#c0c0c0" stroke-width="0.5"/>
<text x="399.65" y="34.60" font-size="2.3" fill="#777">10<tspan font-size="1.61" dy="-1.2">2</tspan></text>
<line x1="407.425" y1="30" x2="407.425" y2="31.2" stroke="#c0c0c0" stroke-width="0.5"/>
<text x="405.82" y="34.60" font-size="2.3" fill="#777">10<tspan font-size="1.61" dy="-1.2">3</tspan></text>
<line x1="413.6" y1="30" x2="413.6" y2="31.2" stroke="#c0c0c0" stroke-width="0.5"/>
<text x="412.00" y="34.60" font-size="2.3" fill="#777">10<tspan font-size="1.61" dy="-1.2">4</tspan></text>
<line x1="389.55" y1="89.5" x2="389.55" y2="90.7" stroke="#c0c0c0" stroke-width="0.5"/>
<text x="387.95" y="94.10" font-size="2.3" fill="#777">10<tspan font-size="1.61" dy="-1.2">0</tspan></text>
<line x1="395.075" y1="89.5" x2="395.075" y2="90.7" stroke="#c0c0c0" stroke-width="0.5"/>
<text x="393.47" y="94.10" font-size="2.3" fill="#777">10<tspan font-size="1.61" dy="-1.2">1</tspan></text>
<line x1="401.25" y1="89.5" x2="401.25" y2="90.7" stroke="#c0c0c0" stroke-width="0.5"/>
<text x="399.65" y="94.10" font-size="2.3" fill="#777">10<tspan font-size="1.61" dy="-1.2">2</tspan></text>
<line x1="407.425" y1="89.5" x2="407.425" y2="90.7" stroke="#c0c0c0" stroke-width="0.5"/>
<text x="405.82" y="94.10" font-size="2.3" fill="#777">10<tspan font-size="1.61" dy="-1.2">3</tspan></text>
<line x1="413.6" y1="89.5" x2="413.6" y2="90.7" stroke="#c0c0c0" stroke-width="0.5"/>
<text x="412.00" y="94.10" font-size="2.3" fill="#777">10<tspan font-size="1.61" dy="-1.2">4</tspan></text>
<line x1="386" y1="36.3" x2="412.2" y2="36.3" stroke="#000" stroke-width="1.05"/>
<path d="M415.5,36.3 L411.7,34.599999999999994 L411.7,38.0 Z" fill="#000"/>
<line x1="386" y1="96.3" x2="412.2" y2="96.3" stroke="#000" stroke-width="1.05"/>
<path d="M415.5,96.3 L411.7,94.6 L411.7,98.0 Z" fill="#000"/>
<text x="400.5" y="46" font-size="6.6" fill="#000" text-anchor="middle" stroke="#000" stroke-width="0.25">CD38</text>
<text x="399.3" y="106" font-size="6.2" fill="#000" text-anchor="middle" stroke="#000" stroke-width="0.25">CD20</text>
<rect x="424.5" y="-1" width="32.5" height="31" stroke="#a8a8a8" stroke-width="0.6" fill="none"/>
<rect x="424.5" y="60" width="32.5" height="29.5" stroke="#a8a8a8" stroke-width="0.6" fill="none"/>
<line x1="429.05" y1="30" x2="429.05" y2="31.2" stroke="#c0c0c0" stroke-width="0.5"/>
<text x="427.45" y="34.60" font-size="2.3" fill="#777">10<tspan font-size="1.61" dy="-1.2">0</tspan></text>
<line x1="434.575" y1="30" x2="434.575" y2="31.2" stroke="#c0c0c0" stroke-width="0.5"/>
<text x="432.97" y="34.60" font-size="2.3" fill="#777">10<tspan font-size="1.61" dy="-1.2">1</tspan></text>
<line x1="440.75" y1="30" x2="440.75" y2="31.2" stroke="#c0c0c0" stroke-width="0.5"/>
<text x="439.15" y="34.60" font-size="2.3" fill="#777">10<tspan font-size="1.61" dy="-1.2">2</tspan></text>
<line x1="446.925" y1="30" x2="446.925" y2="31.2" stroke="#c0c0c0" stroke-width="0.5"/>
<text x="445.32" y="34.60" font-size="2.3" fill="#777">10<tspan font-size="1.61" dy="-1.2">3</tspan></text>
<line x1="453.1" y1="30" x2="453.1" y2="31.2" stroke="#c0c0c0" stroke-width="0.5"/>
<text x="451.50" y="34.60" font-size="2.3" fill="#777">10<tspan font-size="1.61" dy="-1.2">4</tspan></text>
<line x1="429.05" y1="89.5" x2="429.05" y2="90.7" stroke="#c0c0c0" stroke-width="0.5"/>
<text x="427.45" y="94.10" font-size="2.3" fill="#777">10<tspan font-size="1.61" dy="-1.2">0</tspan></text>
<line x1="434.575" y1="89.5" x2="434.575" y2="90.7" stroke="#c0c0c0" stroke-width="0.5"/>
<text x="432.97" y="94.10" font-size="2.3" fill="#777">10<tspan font-size="1.61" dy="-1.2">1</tspan></text>
<line x1="440.75" y1="89.5" x2="440.75" y2="90.7" stroke="#c0c0c0" stroke-width="0.5"/>
<text x="439.15" y="94.10" font-size="2.3" fill="#777">10<tspan font-size="1.61" dy="-1.2">2</tspan></text>
<line x1="446.925" y1="89.5" x2="446.925" y2="90.7" stroke="#c0c0c0" stroke-width="0.5"/>
<text x="445.32" y="94.10" font-size="2.3" fill="#777">10<tspan font-size="1.61" dy="-1.2">3</tspan></text>
<line x1="453.1" y1="89.5" x2="453.1" y2="90.7" stroke="#c0c0c0" stroke-width="0.5"/>
<text x="451.50" y="94.10" font-size="2.3" fill="#777">10<tspan font-size="1.61" dy="-1.2">4</tspan></text>
<line x1="425.5" y1="36.3" x2="451.7" y2="36.3" stroke="#000" stroke-width="1.05"/>
<path d="M455.0,36.3 L451.2,34.599999999999994 L451.2,38.0 Z" fill="#000"/>
<line x1="425.5" y1="96.3" x2="451.7" y2="96.3" stroke="#000" stroke-width="1.05"/>
<path d="M455.0,96.3 L451.2,94.6 L451.2,98.0 Z" fill="#000"/>
<text x="437.5" y="46" font-size="6.6" fill="#000" text-anchor="middle" stroke="#000" stroke-width="0.25">CD138</text>
<text x="438.8" y="106" font-size="6.2" fill="#000" text-anchor="middle" stroke="#000" stroke-width="0.25">CD43</text>
<rect x="464" y="-1" width="32.5" height="31" stroke="#a8a8a8" stroke-width="0.6" fill="none"/>
<rect x="464" y="60" width="32.5" height="29.5" stroke="#a8a8a8" stroke-width="0.6" fill="none"/>
<line x1="468.55" y1="30" x2="468.55" y2="31.2" stroke="#c0c0c0" stroke-width="0.5"/>
<text x="466.95" y="34.60" font-size="2.3" fill="#777">10<tspan font-size="1.61" dy="-1.2">0</tspan></text>
<line x1="474.075" y1="30" x2="474.075" y2="31.2" stroke="#c0c0c0" stroke-width="0.5"/>
<text x="472.47" y="34.60" font-size="2.3" fill="#777">10<tspan font-size="1.61" dy="-1.2">1</tspan></text>
<line x1="480.25" y1="30" x2="480.25" y2="31.2" stroke="#c0c0c0" stroke-width="0.5"/>
<text x="478.65" y="34.60" font-size="2.3" fill="#777">10<tspan font-size="1.61" dy="-1.2">2</tspan></text>
<line x1="486.425" y1="30" x2="486.425" y2="31.2" stroke="#c0c0c0" stroke-width="0.5"/>
<text x="484.82" y="34.60" font-size="2.3" fill="#777">10<tspan font-size="1.61" dy="-1.2">3</tspan></text>
<line x1="492.6" y1="30" x2="492.6" y2="31.2" stroke="#c0c0c0" stroke-width="0.5"/>
<text x="491.00" y="34.60" font-size="2.3" fill="#777">10<tspan font-size="1.61" dy="-1.2">4</tspan></text>
<line x1="468.55" y1="89.5" x2="468.55" y2="90.7" stroke="#c0c0c0" stroke-width="0.5"/>
<text x="466.95" y="94.10" font-size="2.3" fill="#777">10<tspan font-size="1.61" dy="-1.2">0</tspan></text>
<line x1="474.075" y1="89.5" x2="474.075" y2="90.7" stroke="#c0c0c0" stroke-width="0.5"/>
<text x="472.47" y="94.10" font-size="2.3" fill="#777">10<tspan font-size="1.61" dy="-1.2">1</tspan></text>
<line x1="480.25" y1="89.5" x2="480.25" y2="90.7" stroke="#c0c0c0" stroke-width="0.5"/>
<text x="478.65" y="94.10" font-size="2.3" fill="#777">10<tspan font-size="1.61" dy="-1.2">2</tspan></text>
<line x1="486.425" y1="89.5" x2="486.425" y2="90.7" stroke="#c0c0c0" stroke-width="0.5"/>
<text x="484.82" y="94.10" font-size="2.3" fill="#777">10<tspan font-size="1.61" dy="-1.2">3</tspan></text>
<line x1="492.6" y1="89.5" x2="492.6" y2="90.7" stroke="#c0c0c0" stroke-width="0.5"/>
<text x="491.00" y="94.10" font-size="2.3" fill="#777">10<tspan font-size="1.61" dy="-1.2">4</tspan></text>
<line x1="465" y1="36.3" x2="491.2" y2="36.3" stroke="#000" stroke-width="1.05"/>
<path d="M494.5,36.3 L490.7,34.599999999999994 L490.7,38.0 Z" fill="#000"/>
<line x1="465" y1="96.3" x2="491.2" y2="96.3" stroke="#000" stroke-width="1.05"/>
<path d="M494.5,96.3 L490.7,94.6 L490.7,98.0 Z" fill="#000"/>
<text x="478.3" y="46" font-size="6.6" fill="#000" text-anchor="middle" stroke="#000" stroke-width="0.25">CD5</text>
<text x="477.8" y="106" font-size="6.2" fill="#000" text-anchor="middle" stroke="#000" stroke-width="0.25">CD70</text>
<path d="M306.50,29.50 L306.89,29.50 L307.29,29.50 L307.68,29.50 L308.07,29.50 L308.47,29.50 L308.86,29.50 L309.26,29.49 L309.65,29.48 L310.04,29.46 L310.44,29.43 L310.83,29.36 L311.23,29.24 L311.62,29.04 L312.01,28.71 L312.41,28.20 L312.80,27.44 L313.19,26.35 L313.59,24.86 L313.98,22.90 L314.38,20.47 L314.77,17.58 L315.16,14.34 L315.56,10.92 L315.95,7.56 L316.34,4.52 L316.74,2.10 L317.13,0.54 L317.52,0.00 L317.92,0.54 L318.31,2.10 L318.71,4.52 L319.10,7.56 L319.49,10.92 L319.89,14.34 L320.28,17.58 L320.68,20.47 L321.07,22.90 L321.46,24.86 L321.86,26.35 L322.25,27.44 L322.64,28.20 L323.04,28.71 L323.43,29.04 L323.82,29.24 L324.22,29.36 L324.61,29.43 L325.01,29.46 L325.40,29.48 L325.79,29.49 L326.19,29.50 L326.58,29.50 L326.98,29.50 L327.37,29.50 L327.76,29.50 L328.16,29.50 L328.55,29.50 L328.94,29.50 L329.34,29.50 L329.73,29.50 L330.12,29.50 L330.52,29.50 L330.91,29.50 L331.31,29.50 L331.70,29.50 L332.09,29.50 L332.49,29.50 L332.88,29.50 L333.27,29.50 L333.67,29.50 L334.06,29.50 L334.46,29.50 L334.85,29.50 L335.24,29.50 L335.64,29.50 L336.03,29.50 L336.43,29.50 L336.82,29.50 L337.21,29.50 L337.61,29.50 L338.00,29.50" fill="none" stroke="#4eaedc" stroke-width="0.55" opacity="0.7"/>
<path d="M306.50,29.50 L306.89,29.50 L307.29,29.50 L307.68,29.49 L308.07,29.49 L308.47,29.47 L308.86,29.45 L309.26,29.40 L309.65,29.32 L310.04,29.20 L310.44,29.00 L310.83,28.68 L311.23,28.22 L311.62,27.56 L312.01,26.64 L312.41,25.42 L312.80,23.88 L313.19,21.98 L313.59,19.77 L313.98,17.29 L314.38,14.67 L314.77,12.05 L315.16,9.61 L315.56,7.53 L315.95,6.00 L316.34,5.13 L316.74,5.00 L317.13,5.60 L317.52,6.86 L317.92,8.61 L318.31,10.65 L318.71,12.77 L319.10,14.73 L319.49,16.33 L319.89,17.43 L320.28,17.92 L320.68,17.80 L321.07,17.09 L321.46,15.92 L321.86,14.43 L322.25,12.82 L322.64,11.29 L323.04,10.04 L323.43,9.23 L323.82,8.96 L324.22,9.27 L324.61,10.12 L325.01,11.40 L325.40,12.97 L325.79,14.65 L326.19,16.26 L326.58,17.69 L326.98,18.86 L327.37,19.80 L327.76,20.57 L328.16,21.28 L328.55,22.02 L328.94,22.86 L329.34,23.81 L329.73,24.84 L330.12,25.86 L330.52,26.81 L330.91,27.62 L331.31,28.26 L331.70,28.73 L332.09,29.05 L332.49,29.25 L332.88,29.37 L333.27,29.44 L333.67,29.47 L334.06,29.49 L334.46,29.50 L334.85,29.50 L335.24,29.50 L335.64,29.50 L336.03,29.50 L336.43,29.50 L336.82,29.50 L337.21,29.50 L337.61,29.50 L338.00,29.50" fill="none" stroke="#d05a6a" stroke-width="0.55" opacity="0.7"/>
<path d="M306.50,29.45 L306.89,29.42 L307.29,29.36 L307.68,29.27 L308.07,29.14 L308.47,28.94 L308.86,28.65 L309.26,28.25 L309.65,27.71 L310.04,26.98 L310.44,26.05 L310.83,24.89 L311.23,23.48 L311.62,21.83 L312.01,19.97 L312.41,17.95 L312.80,15.83 L313.19,13.71 L313.59,11.70 L313.98,9.92 L314.38,8.49 L314.77,7.49 L315.16,7.00 L315.56,7.05 L315.95,7.65 L316.34,8.74 L316.74,10.25 L317.13,12.09 L317.52,14.13 L317.92,16.25 L318.31,18.36 L318.71,20.36 L319.10,22.18 L319.49,23.78 L319.89,25.14 L320.28,26.25 L320.68,27.14 L321.07,27.83 L321.46,28.34 L321.86,28.72 L322.25,28.99 L322.64,29.17 L323.04,29.29 L323.43,29.37 L323.82,29.42 L324.22,29.46 L324.61,29.47 L325.01,29.49 L325.40,29.49 L325.79,29.50 L326.19,29.50 L326.58,29.50 L326.98,29.50 L327.37,29.50 L327.76,29.50 L328.16,29.50 L328.55,29.50 L328.94,29.50 L329.34,29.50 L329.73,29.50 L330.12,29.50 L330.52,29.50 L330.91,29.50 L331.31,29.50 L331.70,29.50 L332.09,29.50 L332.49,29.50 L332.88,29.50 L333.27,29.50 L333.67,29.50 L334.06,29.50 L334.46,29.50 L334.85,29.50 L335.24,29.50 L335.64,29.50 L336.03,29.50 L336.43,29.50 L336.82,29.50 L337.21,29.50 L337.61,29.50 L338.00,29.50" fill="none" stroke="#eaa070" stroke-width="0.5" opacity="0.5"/>
<path d="M346.00,29.50 L346.39,29.50 L346.79,29.50 L347.18,29.50 L347.57,29.50 L347.97,29.50 L348.36,29.50 L348.76,29.50 L349.15,29.50 L349.54,29.50 L349.94,29.49 L350.33,29.49 L350.73,29.47 L351.12,29.43 L351.51,29.36 L351.91,29.23 L352.30,29.01 L352.69,28.63 L353.09,28.03 L353.48,27.12 L353.88,25.81 L354.27,24.02 L354.66,21.71 L355.06,18.89 L355.45,15.68 L355.84,12.26 L356.24,8.90 L356.63,5.93 L357.02,3.68 L357.42,2.42 L357.81,2.30 L358.21,3.34 L358.60,5.41 L358.99,8.26 L359.39,11.57 L359.78,15.00 L360.18,18.28 L360.57,21.18 L360.96,23.60 L361.36,25.49 L361.75,26.89 L362.14,27.87 L362.54,28.53 L362.93,28.95 L363.32,29.20 L363.72,29.34 L364.11,29.42 L364.51,29.46 L364.90,29.48 L365.29,29.49 L365.69,29.50 L366.08,29.50 L366.48,29.50 L366.87,29.50 L367.26,29.50 L367.66,29.50 L368.05,29.50 L368.44,29.50 L368.84,29.50 L369.23,29.50 L369.62,29.50 L370.02,29.50 L370.41,29.50 L370.81,29.50 L371.20,29.50 L371.59,29.50 L371.99,29.50 L372.38,29.50 L372.77,29.50 L373.17,29.50 L373.56,29.50 L373.96,29.50 L374.35,29.50 L374.74,29.50 L375.14,29.50 L375.53,29.50 L375.93,29.50 L376.32,29.50 L376.71,29.50 L377.11,29.50 L377.50,29.50" fill="none" stroke="#4eaedc" stroke-width="0.55" opacity="0.7"/>
<path d="M346.00,29.50 L346.39,29.50 L346.79,29.50 L347.18,29.50 L347.57,29.50 L347.97,29.50 L348.36,29.50 L348.76,29.50 L349.15,29.49 L349.54,29.48 L349.94,29.47 L350.33,29.44 L350.73,29.39 L351.12,29.31 L351.51,29.18 L351.91,28.96 L352.30,28.64 L352.69,28.15 L353.09,27.47 L353.48,26.53 L353.88,25.30 L354.27,23.74 L354.66,21.85 L355.06,19.66 L355.45,17.24 L355.84,14.70 L356.24,12.20 L356.63,9.91 L357.02,8.01 L357.42,6.66 L357.81,6.00 L358.21,6.07 L358.60,6.88 L358.99,8.35 L359.39,10.34 L359.78,12.69 L360.18,15.21 L360.57,17.74 L360.96,20.12 L361.36,22.25 L361.75,24.08 L362.14,25.57 L362.54,26.74 L362.93,27.63 L363.32,28.27 L363.72,28.71 L364.11,29.01 L364.51,29.21 L364.90,29.33 L365.29,29.41 L365.69,29.45 L366.08,29.47 L366.48,29.49 L366.87,29.49 L367.26,29.50 L367.66,29.50 L368.05,29.50 L368.44,29.50 L368.84,29.50 L369.23,29.50 L369.62,29.50 L370.02,29.50 L370.41,29.50 L370.81,29.50 L371.20,29.50 L371.59,29.50 L371.99,29.50 L372.38,29.50 L372.77,29.50 L373.17,29.50 L373.56,29.50 L373.96,29.50 L374.35,29.50 L374.74,29.50 L375.14,29.50 L375.53,29.50 L375.93,29.50 L376.32,29.50 L376.71,29.50 L377.11,29.50 L377.50,29.50" fill="none" stroke="#a0a0a0" stroke-width="0.55" opacity="0.7"/>
<path d="M346.00,29.47 L346.39,29.44 L346.79,29.38 L347.18,29.30 L347.57,29.15 L347.97,28.93 L348.36,28.60 L348.76,28.11 L349.15,27.44 L349.54,26.52 L349.94,25.34 L350.33,23.87 L350.73,22.11 L351.12,20.11 L351.51,17.95 L351.91,15.74 L352.30,13.62 L352.69,11.74 L353.09,10.27 L353.48,9.32 L353.88,9.00 L354.27,9.32 L354.66,10.27 L355.06,11.74 L355.45,13.62 L355.84,15.74 L356.24,17.95 L356.63,20.11 L357.02,22.11 L357.42,23.87 L357.81,25.34 L358.21,26.52 L358.60,27.44 L358.99,28.11 L359.39,28.60 L359.78,28.93 L360.18,29.15 L360.57,29.30 L360.96,29.38 L361.36,29.44 L361.75,29.47 L362.14,29.48 L362.54,29.49 L362.93,29.50 L363.32,29.50 L363.72,29.50 L364.11,29.50 L364.51,29.50 L364.90,29.50 L365.29,29.50 L365.69,29.50 L366.08,29.50 L366.48,29.50 L366.87,29.50 L367.26,29.50 L367.66,29.50 L368.05,29.50 L368.44,29.50 L368.84,29.50 L369.23,29.50 L369.62,29.50 L370.02,29.50 L370.41,29.50 L370.81,29.50 L371.20,29.50 L371.59,29.50 L371.99,29.50 L372.38,29.50 L372.77,29.50 L373.17,29.50 L373.56,29.50 L373.96,29.50 L374.35,29.50 L374.74,29.50 L375.14,29.50 L375.53,29.50 L375.93,29.50 L376.32,29.50 L376.71,29.50 L377.11,29.50 L377.50,29.50" fill="none" stroke="#eaa070" stroke-width="0.5" opacity="0.6"/>
<path d="M385.50,29.42 L385.89,29.35 L386.29,29.24 L386.68,29.07 L387.07,28.78 L387.47,28.35 L387.86,27.73 L388.26,26.84 L388.65,25.64 L389.04,24.07 L389.44,22.10 L389.83,19.74 L390.23,17.02 L390.62,14.05 L391.01,10.97 L391.41,7.97 L391.80,5.28 L392.19,3.10 L392.59,1.63 L392.98,1.00 L393.38,1.27 L393.77,2.42 L394.16,4.33 L394.56,6.85 L394.95,9.75 L395.34,12.82 L395.74,15.86 L396.13,18.69 L396.52,21.20 L396.92,23.33 L397.31,25.06 L397.71,26.40 L398.10,27.41 L398.49,28.13 L398.89,28.63 L399.28,28.97 L399.68,29.18 L400.07,29.32 L400.46,29.40 L400.86,29.44 L401.25,29.47 L401.64,29.49 L402.04,29.49 L402.43,29.50 L402.82,29.50 L403.22,29.50 L403.61,29.50 L404.01,29.50 L404.40,29.50 L404.79,29.50 L405.19,29.50 L405.58,29.50 L405.98,29.50 L406.37,29.50 L406.76,29.50 L407.16,29.50 L407.55,29.50 L407.94,29.50 L408.34,29.50 L408.73,29.50 L409.12,29.50 L409.52,29.50 L409.91,29.50 L410.31,29.50 L410.70,29.50 L411.09,29.50 L411.49,29.50 L411.88,29.50 L412.27,29.50 L412.67,29.50 L413.06,29.50 L413.46,29.50 L413.85,29.50 L414.24,29.50 L414.64,29.50 L415.03,29.50 L415.43,29.50 L415.82,29.50 L416.21,29.50 L416.61,29.50 L417.00,29.50" fill="none" stroke="#eaa070" stroke-width="0.55" opacity="0.7"/>
<path d="M385.50,29.50 L385.89,29.50 L386.29,29.50 L386.68,29.50 L387.07,29.50 L387.47,29.50 L387.86,29.50 L388.26,29.50 L388.65,29.50 L389.04,29.50 L389.44,29.50 L389.83,29.50 L390.23,29.49 L390.62,29.49 L391.01,29.48 L391.41,29.45 L391.80,29.40 L392.19,29.32 L392.59,29.17 L392.98,28.93 L393.38,28.53 L393.77,27.93 L394.16,27.04 L394.56,25.79 L394.95,24.12 L395.34,21.96 L395.74,19.33 L396.13,16.28 L396.52,12.93 L396.92,9.49 L397.31,6.22 L397.71,3.39 L398.10,1.28 L398.49,0.11 L398.89,0.00 L399.28,0.97 L399.68,2.90 L400.07,5.61 L400.46,8.82 L400.86,12.24 L401.25,15.63 L401.64,18.75 L402.04,21.47 L402.43,23.73 L402.82,25.50 L403.22,26.82 L403.61,27.78 L404.01,28.43 L404.40,28.86 L404.79,29.13 L405.19,29.30 L405.58,29.39 L405.98,29.44 L406.37,29.47 L406.76,29.49 L407.16,29.49 L407.55,29.50 L407.94,29.50 L408.34,29.50 L408.73,29.50 L409.12,29.50 L409.52,29.50 L409.91,29.50 L410.31,29.50 L410.70,29.50 L411.09,29.50 L411.49,29.50 L411.88,29.50 L412.27,29.50 L412.67,29.50 L413.06,29.50 L413.46,29.50 L413.85,29.50 L414.24,29.50 L414.64,29.50 L415.03,29.50 L415.43,29.50 L415.82,29.50 L416.21,29.50 L416.61,29.50 L417.00,29.50" fill="none" stroke="#4eaedc" stroke-width="0.55" opacity="0.7"/>
<path d="M385.50,29.50 L385.89,29.50 L386.29,29.50 L386.68,29.50 L387.07,29.50 L387.47,29.50 L387.86,29.50 L388.26,29.50 L388.65,29.50 L389.04,29.49 L389.44,29.48 L389.83,29.47 L390.23,29.44 L390.62,29.40 L391.01,29.33 L391.41,29.21 L391.80,29.04 L392.19,28.78 L392.59,28.41 L392.98,27.91 L393.38,27.24 L393.77,26.41 L394.16,25.39 L394.56,24.22 L394.95,22.92 L395.34,21.55 L395.74,20.21 L396.13,18.98 L396.52,17.96 L396.92,17.24 L397.31,16.88 L397.71,16.92 L398.10,17.36 L398.49,18.14 L398.89,19.21 L399.28,20.47 L399.68,21.82 L400.07,23.17 L400.46,24.43 L400.86,25.54 L401.25,26.45 L401.64,27.11 L402.04,27.50 L402.43,27.57 L402.82,27.28 L403.22,26.58 L403.61,25.44 L404.01,23.87 L404.40,21.90 L404.79,19.68 L405.19,17.40 L405.58,15.32 L405.98,13.70 L406.37,12.78 L406.76,12.70 L407.16,13.46 L407.55,14.96 L407.94,16.99 L408.34,19.27 L408.73,21.56 L409.12,23.64 L409.52,25.40 L409.91,26.77 L410.31,27.78 L410.70,28.47 L411.09,28.91 L411.49,29.18 L411.88,29.34 L412.27,29.42 L412.67,29.46 L413.06,29.48 L413.46,29.49 L413.85,29.50 L414.24,29.50 L414.64,29.50 L415.03,29.50 L415.43,29.50 L415.82,29.50 L416.21,29.50 L416.61,29.50 L417.00,29.50" fill="none" stroke="#d05a6a" stroke-width="0.55" opacity="0.7"/>
<path d="M425.00,29.50 L425.39,29.50 L425.79,29.50 L426.18,29.50 L426.57,29.50 L426.97,29.50 L427.36,29.50 L427.76,29.50 L428.15,29.50 L428.54,29.50 L428.94,29.50 L429.33,29.50 L429.73,29.50 L430.12,29.49 L430.51,29.49 L430.91,29.47 L431.30,29.44 L431.69,29.38 L432.09,29.27 L432.48,29.07 L432.88,28.74 L433.27,28.21 L433.66,27.39 L434.06,26.20 L434.45,24.56 L434.84,22.42 L435.24,19.78 L435.63,16.72 L436.02,13.41 L436.42,10.11 L436.81,7.13 L437.21,4.78 L437.60,3.34 L437.99,3.00 L438.39,3.79 L438.78,5.62 L439.18,8.26 L439.57,11.41 L439.96,14.75 L440.36,17.98 L440.75,20.89 L441.14,23.34 L441.54,25.27 L441.93,26.73 L442.32,27.76 L442.72,28.45 L443.11,28.90 L443.51,29.17 L443.90,29.32 L444.29,29.41 L444.69,29.46 L445.08,29.48 L445.48,29.49 L445.87,29.50 L446.26,29.50 L446.66,29.50 L447.05,29.50 L447.44,29.50 L447.84,29.50 L448.23,29.50 L448.62,29.50 L449.02,29.50 L449.41,29.50 L449.81,29.50 L450.20,29.50 L450.59,29.50 L450.99,29.50 L451.38,29.50 L451.77,29.50 L452.17,29.50 L452.56,29.50 L452.96,29.50 L453.35,29.50 L453.74,29.50 L454.14,29.50 L454.53,29.50 L454.93,29.50 L455.32,29.50 L455.71,29.50 L456.11,29.50 L456.50,29.50" fill="none" stroke="#70c096" stroke-width="0.55" opacity="0.7"/>
<path d="M425.00,29.50 L425.39,29.50 L425.79,29.50 L426.18,29.50 L426.57,29.50 L426.97,29.50 L427.36,29.50 L427.76,29.50 L428.15,29.50 L428.54,29.50 L428.94,29.50 L429.33,29.50 L429.73,29.50 L430.12,29.50 L430.51,29.49 L430.91,29.49 L431.30,29.48 L431.69,29.46 L432.09,29.43 L432.48,29.38 L432.88,29.29 L433.27,29.15 L433.66,28.95 L434.06,28.66 L434.45,28.24 L434.84,27.68 L435.24,26.96 L435.63,26.06 L436.02,24.99 L436.42,23.78 L436.81,22.46 L437.21,21.11 L437.60,19.81 L437.99,18.67 L438.39,17.77 L438.78,17.20 L439.18,17.00 L439.57,17.20 L439.96,17.77 L440.36,18.67 L440.75,19.81 L441.14,21.11 L441.54,22.46 L441.93,23.78 L442.32,24.99 L442.72,26.06 L443.11,26.96 L443.51,27.68 L443.90,28.24 L444.29,28.66 L444.69,28.95 L445.08,29.15 L445.48,29.29 L445.87,29.38 L446.26,29.43 L446.66,29.46 L447.05,29.48 L447.44,29.49 L447.84,29.49 L448.23,29.50 L448.62,29.50 L449.02,29.50 L449.41,29.50 L449.81,29.50 L450.20,29.50 L450.59,29.50 L450.99,29.50 L451.38,29.50 L451.77,29.50 L452.17,29.50 L452.56,29.50 L452.96,29.50 L453.35,29.50 L453.74,29.50 L454.14,29.50 L454.53,29.50 L454.93,29.50 L455.32,29.50 L455.71,29.50 L456.11,29.50 L456.50,29.50" fill="none" stroke="#a0a0a0" stroke-width="0.55" opacity="0.7"/>
<path d="M464.50,27.06 L464.89,26.56 L465.29,26.02 L465.68,25.48 L466.07,24.93 L466.47,24.38 L466.86,23.83 L467.26,23.27 L467.65,22.68 L468.04,22.00 L468.44,21.19 L468.83,20.21 L469.23,19.02 L469.62,17.61 L470.01,16.00 L470.41,14.26 L470.80,12.47 L471.19,10.77 L471.59,9.32 L471.98,8.25 L472.38,7.70 L472.77,7.74 L473.16,8.39 L473.56,9.62 L473.95,11.34 L474.34,13.41 L474.74,15.69 L475.13,18.00 L475.52,20.23 L475.92,22.25 L476.31,24.01 L476.71,25.47 L477.10,26.64 L477.49,27.53 L477.89,28.19 L478.28,28.65 L478.68,28.97 L479.07,29.18 L479.46,29.31 L479.86,29.39 L480.25,29.44 L480.64,29.47 L481.04,29.48 L481.43,29.49 L481.82,29.50 L482.22,29.50 L482.61,29.50 L483.01,29.50 L483.40,29.50 L483.79,29.50 L484.19,29.50 L484.58,29.50 L484.98,29.50 L485.37,29.50 L485.76,29.50 L486.16,29.50 L486.55,29.50 L486.94,29.50 L487.34,29.50 L487.73,29.50 L488.12,29.50 L488.52,29.50 L488.91,29.50 L489.31,29.50 L489.70,29.50 L490.09,29.50 L490.49,29.50 L490.88,29.50 L491.27,29.50 L491.67,29.50 L492.06,29.50 L492.46,29.50 L492.85,29.50 L493.24,29.50 L493.64,29.50 L494.03,29.50 L494.43,29.50 L494.82,29.50 L495.21,29.50 L495.61,29.50 L496.00,29.50" fill="none" stroke="#b89090" stroke-width="0.55" opacity="0.7"/>
<path d="M306.50,89.00 L306.89,89.00 L307.29,89.00 L307.68,89.00 L308.07,89.00 L308.47,89.00 L308.86,89.00 L309.26,89.00 L309.65,89.00 L310.04,88.99 L310.44,88.99 L310.83,88.97 L311.23,88.94 L311.62,88.88 L312.01,88.77 L312.41,88.57 L312.80,88.23 L313.19,87.68 L313.59,86.85 L313.98,85.64 L314.38,83.97 L314.77,81.78 L315.16,79.09 L315.56,75.98 L315.95,72.61 L316.34,69.25 L316.74,66.20 L317.13,63.81 L317.52,62.35 L317.92,62.00 L318.31,62.81 L318.71,64.67 L319.10,67.36 L319.49,70.57 L319.89,73.97 L320.28,77.27 L320.68,80.23 L321.07,82.72 L321.46,84.69 L321.86,86.17 L322.25,87.22 L322.64,87.93 L323.04,88.38 L323.43,88.66 L323.82,88.82 L324.22,88.91 L324.61,88.96 L325.01,88.98 L325.40,88.99 L325.79,89.00 L326.19,89.00 L326.58,89.00 L326.98,89.00 L327.37,89.00 L327.76,89.00 L328.16,89.00 L328.55,89.00 L328.94,89.00 L329.34,89.00 L329.73,89.00 L330.12,89.00 L330.52,89.00 L330.91,89.00 L331.31,89.00 L331.70,89.00 L332.09,89.00 L332.49,89.00 L332.88,89.00 L333.27,89.00 L333.67,89.00 L334.06,89.00 L334.46,89.00 L334.85,89.00 L335.24,89.00 L335.64,89.00 L336.03,89.00 L336.43,89.00 L336.82,89.00 L337.21,89.00 L337.61,89.00 L338.00,89.00" fill="none" stroke="#4eaedc" stroke-width="0.55" opacity="0.7"/>
<path d="M306.50,88.88 L306.89,88.80 L307.29,88.68 L307.68,88.50 L308.07,88.23 L308.47,87.86 L308.86,87.34 L309.26,86.65 L309.65,85.75 L310.04,84.61 L310.44,83.22 L310.83,81.57 L311.23,79.67 L311.62,77.57 L312.01,75.35 L312.41,73.07 L312.80,70.88 L313.19,68.87 L313.59,67.18 L313.98,65.92 L314.38,65.18 L314.77,65.00 L315.16,65.41 L315.56,66.37 L315.95,67.81 L316.34,69.64 L316.74,71.74 L317.13,73.98 L317.52,76.25 L317.92,78.43 L318.31,80.46 L318.71,82.26 L319.10,83.81 L319.49,85.10 L319.89,86.14 L320.28,86.95 L320.68,87.57 L321.07,88.02 L321.46,88.35 L321.86,88.58 L322.25,88.73 L322.64,88.84 L323.04,88.90 L323.43,88.94 L323.82,88.97 L324.22,88.98 L324.61,88.99 L325.01,88.99 L325.40,89.00 L325.79,89.00 L326.19,89.00 L326.58,89.00 L326.98,89.00 L327.37,89.00 L327.76,89.00 L328.16,89.00 L328.55,89.00 L328.94,89.00 L329.34,89.00 L329.73,89.00 L330.12,89.00 L330.52,89.00 L330.91,89.00 L331.31,89.00 L331.70,89.00 L332.09,89.00 L332.49,89.00 L332.88,89.00 L333.27,89.00 L333.67,89.00 L334.06,89.00 L334.46,89.00 L334.85,89.00 L335.24,89.00 L335.64,89.00 L336.03,89.00 L336.43,89.00 L336.82,89.00 L337.21,89.00 L337.61,89.00 L338.00,89.00" fill="none" stroke="#eaa070" stroke-width="0.5" opacity="0.6"/>
<path d="M306.50,88.92 L306.89,88.88 L307.29,88.82 L307.68,88.74 L308.07,88.62 L308.47,88.47 L308.86,88.26 L309.26,87.99 L309.65,87.65 L310.04,87.21 L310.44,86.67 L310.83,86.02 L311.23,85.24 L311.62,84.32 L312.01,83.28 L312.41,82.11 L312.80,80.83 L313.19,79.46 L313.59,78.04 L313.98,76.60 L314.38,75.19 L314.77,73.85 L315.16,72.65 L315.56,71.62 L315.95,70.81 L316.34,70.27 L316.74,70.00 L317.13,70.03 L317.52,70.35 L317.92,70.95 L318.31,71.81 L318.71,72.87 L319.10,74.11 L319.49,75.46 L319.89,76.89 L320.28,78.33 L320.68,79.74 L321.07,81.09 L321.46,82.35 L321.86,83.50 L322.25,84.52 L322.64,85.40 L323.04,86.16 L323.43,86.79 L323.82,87.31 L324.22,87.73 L324.61,88.05 L325.01,88.31 L325.40,88.50 L325.79,88.65 L326.19,88.75 L326.58,88.83 L326.98,88.89 L327.37,88.92 L327.76,88.95 L328.16,88.97 L328.55,88.98 L328.94,88.99 L329.34,88.99 L329.73,89.00 L330.12,89.00 L330.52,89.00 L330.91,89.00 L331.31,89.00 L331.70,89.00 L332.09,89.00 L332.49,89.00 L332.88,89.00 L333.27,89.00 L333.67,89.00 L334.06,89.00 L334.46,89.00 L334.85,89.00 L335.24,89.00 L335.64,89.00 L336.03,89.00 L336.43,89.00 L336.82,89.00 L337.21,89.00 L337.61,89.00 L338.00,89.00" fill="none" stroke="#d8a0a8" stroke-width="0.5" opacity="0.6"/>
<path d="M346.00,89.00 L346.39,89.00 L346.79,89.00 L347.18,89.00 L347.57,89.00 L347.97,89.00 L348.36,89.00 L348.76,89.00 L349.15,89.00 L349.54,88.99 L349.94,88.99 L350.33,88.97 L350.73,88.94 L351.12,88.89 L351.51,88.79 L351.91,88.63 L352.30,88.36 L352.69,87.94 L353.09,87.33 L353.48,86.46 L353.88,85.28 L354.27,83.78 L354.66,81.93 L355.06,79.78 L355.45,77.40 L355.84,74.90 L356.24,72.41 L356.63,70.04 L357.02,67.91 L357.42,66.10 L357.81,64.62 L358.21,63.50 L358.60,62.70 L358.99,62.20 L359.39,62.00 L359.78,62.09 L360.18,62.49 L360.57,63.23 L360.96,64.33 L361.36,65.77 L361.75,67.53 L362.14,69.56 L362.54,71.77 L362.93,74.07 L363.32,76.35 L363.72,78.53 L364.11,80.54 L364.51,82.33 L364.90,83.87 L365.29,85.14 L365.69,86.17 L366.08,86.98 L366.48,87.59 L366.87,88.04 L367.26,88.36 L367.66,88.58 L368.05,88.74 L368.44,88.84 L368.84,88.90 L369.23,88.94 L369.62,88.97 L370.02,88.98 L370.41,88.99 L370.81,88.99 L371.20,89.00 L371.59,89.00 L371.99,89.00 L372.38,89.00 L372.77,89.00 L373.17,89.00 L373.56,89.00 L373.96,89.00 L374.35,89.00 L374.74,89.00 L375.14,89.00 L375.53,89.00 L375.93,89.00 L376.32,89.00 L376.71,89.00 L377.11,89.00 L377.50,89.00" fill="none" stroke="#4eaedc" stroke-width="0.55" opacity="0.7"/>
<path d="M346.00,89.00 L346.39,88.99 L346.79,88.99 L347.18,88.98 L347.57,88.98 L347.97,88.96 L348.36,88.94 L348.76,88.91 L349.15,88.86 L349.54,88.80 L349.94,88.70 L350.33,88.57 L350.73,88.40 L351.12,88.16 L351.51,87.85 L351.91,87.46 L352.30,86.95 L352.69,86.33 L353.09,85.56 L353.48,84.64 L353.88,83.57 L354.27,82.34 L354.66,80.95 L355.06,79.43 L355.45,77.79 L355.84,76.08 L356.24,74.33 L356.63,72.61 L357.02,70.98 L357.42,69.48 L357.81,68.19 L358.21,67.16 L358.60,66.43 L358.99,66.04 L359.39,66.00 L359.78,66.32 L360.18,66.98 L360.57,67.96 L360.96,69.20 L361.36,70.66 L361.75,72.28 L362.14,73.99 L362.54,75.73 L362.93,77.45 L363.32,79.11 L363.72,80.66 L364.11,82.07 L364.51,83.34 L364.90,84.44 L365.29,85.39 L365.69,86.18 L366.08,86.84 L366.48,87.36 L366.87,87.78 L367.26,88.11 L367.66,88.36 L368.05,88.54 L368.44,88.68 L368.84,88.78 L369.23,88.85 L369.62,88.90 L370.02,88.93 L370.41,88.96 L370.81,88.97 L371.20,88.98 L371.59,88.99 L371.99,88.99 L372.38,89.00 L372.77,89.00 L373.17,89.00 L373.56,89.00 L373.96,89.00 L374.35,89.00 L374.74,89.00 L375.14,89.00 L375.53,89.00 L375.93,89.00 L376.32,89.00 L376.71,89.00 L377.11,89.00 L377.50,89.00" fill="none" stroke="#a0a0a0" stroke-width="0.55" opacity="0.7"/>
<path d="M346.00,88.99 L346.39,88.98 L346.79,88.97 L347.18,88.95 L347.57,88.92 L347.97,88.88 L348.36,88.82 L348.76,88.74 L349.15,88.62 L349.54,88.47 L349.94,88.26 L350.33,87.99 L350.73,87.65 L351.12,87.21 L351.51,86.67 L351.91,86.02 L352.30,85.24 L352.69,84.32 L353.09,83.28 L353.48,82.11 L353.88,80.83 L354.27,79.46 L354.66,78.04 L355.06,76.60 L355.45,75.19 L355.84,73.85 L356.24,72.65 L356.63,71.62 L357.02,70.81 L357.42,70.27 L357.81,70.00 L358.21,70.03 L358.60,70.35 L358.99,70.95 L359.39,71.81 L359.78,72.87 L360.18,74.11 L360.57,75.46 L360.96,76.89 L361.36,78.33 L361.75,79.74 L362.14,81.09 L362.54,82.35 L362.93,83.50 L363.32,84.52 L363.72,85.40 L364.11,86.16 L364.51,86.79 L364.90,87.31 L365.29,87.73 L365.69,88.05 L366.08,88.31 L366.48,88.50 L366.87,88.65 L367.26,88.75 L367.66,88.83 L368.05,88.89 L368.44,88.92 L368.84,88.95 L369.23,88.97 L369.62,88.98 L370.02,88.99 L370.41,88.99 L370.81,89.00 L371.20,89.00 L371.59,89.00 L371.99,89.00 L372.38,89.00 L372.77,89.00 L373.17,89.00 L373.56,89.00 L373.96,89.00 L374.35,89.00 L374.74,89.00 L375.14,89.00 L375.53,89.00 L375.93,89.00 L376.32,89.00 L376.71,89.00 L377.11,89.00 L377.50,89.00" fill="none" stroke="#d8a0a8" stroke-width="0.5" opacity="0.6"/>
<path d="M385.50,89.00 L385.89,89.00 L386.29,89.00 L386.68,89.00 L387.07,89.00 L387.47,89.00 L387.86,88.99 L388.26,88.98 L388.65,88.95 L389.04,88.90 L389.44,88.80 L389.83,88.63 L390.23,88.34 L390.62,87.88 L391.01,87.17 L391.41,86.14 L391.80,84.71 L392.19,82.85 L392.59,80.56 L392.98,77.91 L393.38,75.04 L393.77,72.17 L394.16,69.58 L394.56,67.54 L394.95,66.30 L395.34,66.00 L395.74,66.69 L396.13,68.28 L396.52,70.57 L396.92,73.30 L397.31,76.20 L397.71,79.00 L398.10,81.53 L398.49,83.65 L398.89,85.33 L399.28,86.59 L399.68,87.49 L400.07,88.09 L400.46,88.48 L400.86,88.71 L401.25,88.85 L401.64,88.92 L402.04,88.96 L402.43,88.98 L402.82,88.99 L403.22,89.00 L403.61,89.00 L404.01,89.00 L404.40,89.00 L404.79,89.00 L405.19,89.00 L405.58,89.00 L405.98,89.00 L406.37,89.00 L406.76,89.00 L407.16,89.00 L407.55,89.00 L407.94,89.00 L408.34,89.00 L408.73,89.00 L409.12,89.00 L409.52,89.00 L409.91,89.00 L410.31,89.00 L410.70,89.00 L411.09,89.00 L411.49,89.00 L411.88,89.00 L412.27,89.00 L412.67,89.00 L413.06,89.00 L413.46,89.00 L413.85,89.00 L414.24,89.00 L414.64,89.00 L415.03,89.00 L415.43,89.00 L415.82,89.00 L416.21,89.00 L416.61,89.00 L417.00,89.00" fill="none" stroke="#eaa070" stroke-width="0.55" opacity="0.7"/>
<path d="M385.50,89.00 L385.89,89.00 L386.29,89.00 L386.68,89.00 L387.07,89.00 L387.47,89.00 L387.86,89.00 L388.26,89.00 L388.65,89.00 L389.04,89.00 L389.44,89.00 L389.83,89.00 L390.23,89.00 L390.62,89.00 L391.01,89.00 L391.41,89.00 L391.80,89.00 L392.19,89.00 L392.59,89.00 L392.98,89.00 L393.38,89.00 L393.77,89.00 L394.16,89.00 L394.56,89.00 L394.95,89.00 L395.34,89.00 L395.74,89.00 L396.13,89.00 L396.52,89.00 L396.92,89.00 L397.31,89.00 L397.71,88.99 L398.10,88.99 L398.49,88.97 L398.89,88.94 L399.28,88.87 L399.68,88.75 L400.07,88.55 L400.46,88.22 L400.86,87.68 L401.25,86.89 L401.64,85.76 L402.04,84.23 L402.43,82.27 L402.82,79.92 L403.22,77.28 L403.61,74.50 L404.01,71.82 L404.40,69.52 L404.79,67.84 L405.19,67.00 L405.58,67.10 L405.98,68.12 L406.37,69.94 L406.76,72.34 L407.16,75.05 L407.55,77.82 L407.94,80.42 L408.34,82.70 L408.73,84.57 L409.12,86.01 L409.52,87.07 L409.91,87.81 L410.31,88.30 L410.70,88.60 L411.09,88.78 L411.49,88.89 L411.88,88.94 L412.27,88.97 L412.67,88.99 L413.06,88.99 L413.46,89.00 L413.85,89.00 L414.24,89.00 L414.64,89.00 L415.03,89.00 L415.43,89.00 L415.82,89.00 L416.21,89.00 L416.61,89.00 L417.00,89.00" fill="none" stroke="#4eaedc" stroke-width="0.55" opacity="0.7"/>
<path d="M425.00,88.98 L425.39,88.95 L425.79,88.91 L426.18,88.85 L426.57,88.73 L426.97,88.55 L427.36,88.27 L427.76,87.85 L428.15,87.24 L428.54,86.39 L428.94,85.26 L429.33,83.81 L429.73,82.01 L430.12,79.90 L430.51,77.51 L430.91,74.95 L431.30,72.37 L431.69,69.92 L432.09,67.81 L432.48,66.19 L432.88,65.23 L433.27,65.00 L433.66,65.53 L434.06,66.77 L434.45,68.60 L434.84,70.87 L435.24,73.40 L435.63,75.99 L436.02,78.49 L436.42,80.78 L436.81,82.77 L437.21,84.43 L437.60,85.75 L437.99,86.76 L438.39,87.51 L438.78,88.04 L439.18,88.40 L439.57,88.63 L439.96,88.79 L440.36,88.88 L440.75,88.93 L441.14,88.96 L441.54,88.98 L441.93,88.99 L442.32,89.00 L442.72,89.00 L443.11,89.00 L443.51,89.00 L443.90,89.00 L444.29,89.00 L444.69,89.00 L445.08,89.00 L445.48,89.00 L445.87,89.00 L446.26,89.00 L446.66,89.00 L447.05,89.00 L447.44,89.00 L447.84,89.00 L448.23,89.00 L448.62,89.00 L449.02,89.00 L449.41,89.00 L449.81,89.00 L450.20,89.00 L450.59,89.00 L450.99,89.00 L451.38,89.00 L451.77,89.00 L452.17,89.00 L452.56,89.00 L452.96,89.00 L453.35,89.00 L453.74,89.00 L454.14,89.00 L454.53,89.00 L454.93,89.00 L455.32,89.00 L455.71,89.00 L456.11,89.00 L456.50,89.00" fill="none" stroke="#70c096" stroke-width="0.55" opacity="0.7"/>
<path d="M425.00,88.58 L425.39,88.39 L425.79,88.12 L426.18,87.77 L426.57,87.31 L426.97,86.72 L427.36,85.98 L427.76,85.08 L428.15,84.01 L428.54,82.77 L428.94,81.38 L429.33,79.84 L429.73,78.21 L430.12,76.53 L430.51,74.87 L430.91,73.29 L431.30,71.86 L431.69,70.66 L432.09,69.76 L432.48,69.19 L432.88,69.00 L433.27,69.19 L433.66,69.76 L434.06,70.66 L434.45,71.86 L434.84,73.29 L435.24,74.87 L435.63,76.53 L436.02,78.21 L436.42,79.84 L436.81,81.38 L437.21,82.77 L437.60,84.01 L437.99,85.08 L438.39,85.98 L438.78,86.72 L439.18,87.31 L439.57,87.77 L439.96,88.12 L440.36,88.39 L440.75,88.58 L441.14,88.72 L441.54,88.81 L441.93,88.88 L442.32,88.92 L442.72,88.95 L443.11,88.97 L443.51,88.98 L443.90,88.99 L444.29,88.99 L444.69,89.00 L445.08,89.00 L445.48,89.00 L445.87,89.00 L446.26,89.00 L446.66,89.00 L447.05,89.00 L447.44,89.00 L447.84,89.00 L448.23,89.00 L448.62,89.00 L449.02,89.00 L449.41,89.00 L449.81,89.00 L450.20,89.00 L450.59,89.00 L450.99,89.00 L451.38,89.00 L451.77,89.00 L452.17,89.00 L452.56,89.00 L452.96,89.00 L453.35,89.00 L453.74,89.00 L454.14,89.00 L454.53,89.00 L454.93,89.00 L455.32,89.00 L455.71,89.00 L456.11,89.00 L456.50,89.00" fill="none" stroke="#d8a0a8" stroke-width="0.55" opacity="0.7"/>
<path d="M464.50,87.56 L464.89,87.20 L465.29,86.80 L465.68,86.38 L466.07,85.94 L466.47,85.51 L466.86,85.09 L467.26,84.70 L467.65,84.33 L468.04,83.98 L468.44,83.61 L468.83,83.18 L469.23,82.64 L469.62,81.94 L470.01,81.01 L470.41,79.81 L470.80,78.33 L471.19,76.59 L471.59,74.65 L471.98,72.63 L472.38,70.66 L472.77,68.91 L473.16,67.54 L473.56,66.71 L473.95,66.50 L474.34,66.96 L474.74,68.05 L475.13,69.70 L475.52,71.77 L475.92,74.09 L476.31,76.50 L476.71,78.84 L477.10,81.01 L477.49,82.91 L477.89,84.50 L478.28,85.78 L478.68,86.77 L479.07,87.50 L479.46,88.03 L479.86,88.39 L480.25,88.63 L480.64,88.78 L481.04,88.87 L481.43,88.93 L481.82,88.96 L482.22,88.98 L482.61,88.99 L483.01,89.00 L483.40,89.00 L483.79,89.00 L484.19,89.00 L484.58,89.00 L484.98,89.00 L485.37,89.00 L485.76,89.00 L486.16,89.00 L486.55,89.00 L486.94,89.00 L487.34,89.00 L487.73,89.00 L488.12,89.00 L488.52,89.00 L488.91,89.00 L489.31,89.00 L489.70,89.00 L490.09,89.00 L490.49,89.00 L490.88,89.00 L491.27,89.00 L491.67,89.00 L492.06,89.00 L492.46,89.00 L492.85,89.00 L493.24,89.00 L493.64,89.00 L494.03,89.00 L494.43,89.00 L494.82,89.00 L495.21,89.00 L495.61,89.00 L496.00,89.00" fill="none" stroke="#eaa070" stroke-width="0.55" opacity="0.7"/>
<path d="M464.50,88.87 L464.89,88.79 L465.29,88.69 L465.68,88.55 L466.07,88.35 L466.47,88.08 L466.86,87.73 L467.26,87.27 L467.65,86.70 L468.04,85.99 L468.44,85.14 L468.83,84.14 L469.23,83.00 L469.62,81.74 L470.01,80.38 L470.41,78.96 L470.80,77.53 L471.19,76.15 L471.59,74.87 L471.98,73.77 L472.38,72.89 L472.77,72.29 L473.16,72.00 L473.56,72.03 L473.95,72.39 L474.34,73.05 L474.74,73.97 L475.13,75.12 L475.52,76.42 L475.92,77.81 L476.31,79.25 L476.71,80.66 L477.10,82.00 L477.49,83.24 L477.89,84.35 L478.28,85.32 L478.68,86.14 L479.07,86.82 L479.46,87.37 L479.86,87.81 L480.25,88.14 L480.64,88.39 L481.04,88.58 L481.43,88.72 L481.82,88.81 L482.22,88.88 L482.61,88.92 L483.01,88.95 L483.40,88.97 L483.79,88.98 L484.19,88.99 L484.58,88.99 L484.98,89.00 L485.37,89.00 L485.76,89.00 L486.16,89.00 L486.55,89.00 L486.94,89.00 L487.34,89.00 L487.73,89.00 L488.12,89.00 L488.52,89.00 L488.91,89.00 L489.31,89.00 L489.70,89.00 L490.09,89.00 L490.49,89.00 L490.88,89.00 L491.27,89.00 L491.67,89.00 L492.06,89.00 L492.46,89.00 L492.85,89.00 L493.24,89.00 L493.64,89.00 L494.03,89.00 L494.43,89.00 L494.82,89.00 L495.21,89.00 L495.61,89.00 L496.00,89.00" fill="none" stroke="#d8a0a8" stroke-width="0.5" opacity="0.6"/>
<line x1="505.3" y1="60.5" x2="505.3" y2="5.5" stroke="#000" stroke-width="1.0"/>
<path d="M505.3,2.5 L503.7,6.0 L506.90000000000003,6.0 Z" fill="#000"/>
<text x="506.5" y="92.6" font-size="6.2" font-weight="bold" fill="#000" text-anchor="start" transform="rotate(-90 506.5 92.6)">Cell count</text>
<text x="-0.2" y="135.8" font-size="12.3" font-weight="bold" fill="#000" text-anchor="start" stroke="#000" stroke-width="0.35">C</text>
<text x="44" y="159" font-size="5.8" font-weight="bold">CD19<tspan font-size="3.6" dy="-2">+</tspan></text>
<rect x="26.5" y="160.5" width="47.5" height="41" stroke="#bbb" stroke-width="0.5" fill="none"/>
<ellipse cx="37" cy="183" rx="9" ry="10" fill="#888" opacity="0.35" filter="url(#blur2)"/>
<ellipse cx="36.5" cy="180" rx="7" ry="8.3" fill="#1e1e1e" filter="url(#blur2)"/>
<ellipse cx="45" cy="174.5" rx="8" ry="3.8" fill="#555" opacity="0.55" filter="url(#blur2)" transform="rotate(-20 45 174.5)"/>
<line x1="26.5" y1="185.3" x2="74" y2="185.3" stroke="#555" stroke-width="0.5"/>
<line x1="41" y1="160.5" x2="41" y2="201.5" stroke="#555" stroke-width="0.5"/>
<text x="27.8" y="165.2" font-size="5" font-weight="bold" fill="#000" text-anchor="start" textLength="12.8" lengthAdjust="spacingAndGlyphs">CD24+</text>
<text x="27.8" y="170.6" font-size="5" font-weight="bold" fill="#000" text-anchor="start" textLength="12.8" lengthAdjust="spacingAndGlyphs">CD27-</text>
<text x="60.8" y="165.2" font-size="5" font-weight="bold" fill="#000" text-anchor="start" textLength="12.8" lengthAdjust="spacingAndGlyphs">CD24+</text>
<text x="60.8" y="170.6" font-size="5" font-weight="bold" fill="#000" text-anchor="start" textLength="12.8" lengthAdjust="spacingAndGlyphs">CD27+</text>
<text x="27.8" y="196" font-size="5" font-weight="bold" fill="#000" text-anchor="start" textLength="12.8" lengthAdjust="spacingAndGlyphs">CD24-</text>
<text x="27.8" y="200.9" font-size="5" font-weight="bold" fill="#000" text-anchor="start" textLength="12.8" lengthAdjust="spacingAndGlyphs">CD27-</text>
<text x="61" y="196" font-size="5" font-weight="bold" fill="#000" text-anchor="start" textLength="12.8" lengthAdjust="spacingAndGlyphs">CD24-</text>
<text x="61" y="200.9" font-size="5" font-weight="bold" fill="#000" text-anchor="start" textLength="12.8" lengthAdjust="spacingAndGlyphs">CD27+</text>
<text x="20.5" y="204" font-size="7.3" font-weight="bold" fill="#000" text-anchor="start" transform="rotate(-90 20.5 204)">CD24</text>
<line x1="20" y1="185" x2="20" y2="162.0" stroke="#000" stroke-width="1.1"/>
<path d="M20,159 L18.4,162.5 L21.6,162.5 Z" fill="#000"/>
<text x="25.5" y="212.8" font-size="6.9" font-weight="bold" fill="#000" text-anchor="start">CD27</text>
<line x1="43.5" y1="210.3" x2="69.5" y2="210.3" stroke="#000" stroke-width="1.1"/>
<path d="M72.5,210.3 L69.0,208.70000000000002 L69.0,211.9 Z" fill="#000"/>
<text x="45" y="229" font-size="5.8" font-weight="bold">CD19<tspan font-size="3.6" dy="-2">+</tspan></text>
<rect x="27" y="230.5" width="46" height="44" stroke="#bbb" stroke-width="0.5" fill="none"/>
<ellipse cx="48" cy="250" rx="10" ry="8" fill="#999" opacity="0.3" filter="url(#blur2)"/>
<ellipse cx="39" cy="260.5" rx="3.6" ry="7.5" fill="#222" filter="url(#blur1)"/>
<ellipse cx="42.5" cy="264.5" rx="7.5" ry="3.6" fill="#1a1a1a" filter="url(#blur1)"/>
<line x1="27" y1="258.2" x2="73" y2="258.2" stroke="#555" stroke-width="0.5"/>
<line x1="42.4" y1="230.5" x2="42.4" y2="274.5" stroke="#555" stroke-width="0.5"/>
<text x="29" y="235.4" font-size="5" font-weight="bold" fill="#000" text-anchor="start" textLength="13" lengthAdjust="spacingAndGlyphs">CD27+</text>
<text x="29" y="240.6" font-size="5" font-weight="bold" fill="#000" text-anchor="start" textLength="13" lengthAdjust="spacingAndGlyphs">CD38-</text>
<text x="57.8" y="235.4" font-size="5" font-weight="bold" fill="#000" text-anchor="start" textLength="13" lengthAdjust="spacingAndGlyphs">CD27+</text>
<text x="57.8" y="240.6" font-size="5" font-weight="bold" fill="#000" text-anchor="start" textLength="13" lengthAdjust="spacingAndGlyphs">CD38+</text>
<text x="28.8" y="269" font-size="5" font-weight="bold" fill="#000" text-anchor="start" textLength="13" lengthAdjust="spacingAndGlyphs">CD27-</text>
<text x="28.8" y="274.4" font-size="5" font-weight="bold" fill="#000" text-anchor="start" textLength="13" lengthAdjust="spacingAndGlyphs">CD38-</text>
<text x="59.3" y="268.8" font-size="5" font-weight="bold" fill="#000" text-anchor="start" textLength="13" lengthAdjust="spacingAndGlyphs">CD27-</text>
<text x="59.3" y="273.7" font-size="5" font-weight="bold" fill="#000" text-anchor="start" textLength="13" lengthAdjust="spacingAndGlyphs">CD38+</text>
<text x="21" y="275" font-size="7.3" font-weight="bold" fill="#000" text-anchor="start" transform="rotate(-90 21 275)">CD27</text>
<line x1="19.5" y1="255" x2="19.5" y2="233.0" stroke="#000" stroke-width="1.1"/>
<path d="M19.5,230 L17.9,233.5 L21.1,233.5 Z" fill="#000"/>
<text x="25.5" y="285.8" font-size="6.9" font-weight="bold" fill="#000" text-anchor="start">CD38</text>
<line x1="41.5" y1="282.7" x2="69.5" y2="282.7" stroke="#000" stroke-width="1.1"/>
<path d="M72.5,282.7 L69.0,281.09999999999997 L69.0,284.3 Z" fill="#000"/>
<text x="45" y="295.5" font-size="5.8" font-weight="bold">CD19<tspan font-size="3.6" dy="-2">+</tspan></text>
<rect x="27" y="297" width="46.2" height="45.2" stroke="#bbb" stroke-width="0.5" fill="none"/>
<ellipse cx="40" cy="320" rx="11" ry="8" fill="#777" opacity="0.55" filter="url(#blur2)"/>
<ellipse cx="39" cy="324" rx="8.5" ry="7.5" fill="#3a3a3a" opacity="0.85" filter="url(#blur2)" transform="rotate(-35 39 324)"/>
<ellipse cx="38.5" cy="323.5" rx="5.5" ry="4.8" fill="#1a1a1a" filter="url(#blur1)"/>
<ellipse cx="50" cy="329" rx="5" ry="4" fill="#bbb" opacity="0.5" filter="url(#blur2)"/>
<ellipse cx="38.3" cy="327" rx="11" ry="9.3" fill="none" stroke="#333" stroke-width="0.6" transform="rotate(-40 38.3 327)"/>
<line x1="41" y1="304.3" x2="41" y2="316" stroke="#444" stroke-width="0.6"/>
<line x1="53.6" y1="303.8" x2="53.6" y2="322" stroke="#444" stroke-width="0.6"/>
<line x1="47.6" y1="322" x2="53.6" y2="322" stroke="#444" stroke-width="0.6"/>
<rect x="48.3" y="322" width="19.6" height="16.2" stroke="#555" stroke-width="0.6" fill="none"/>
<text x="29.2" y="303.1" font-size="4.4" font-weight="bold" fill="#000" text-anchor="start">Memory</text>
<text x="52.7" y="304.3" font-size="4.4" font-weight="bold" fill="#000" text-anchor="start">TR</text>
<text x="28" y="339.6" font-size="4.6" font-weight="bold" fill="#000" text-anchor="start">Mature</text>
<text x="58.2" y="337" font-size="4.4" font-weight="bold" fill="#000" text-anchor="start">Plasma</text>
<text x="58.2" y="342.3" font-size="4.4" font-weight="bold" fill="#000" text-anchor="start">blasts</text>
<text x="21" y="340.5" font-size="7.3" font-weight="bold" fill="#000" text-anchor="start" transform="rotate(-90 21 340.5)">CD24</text>
<line x1="19.5" y1="317.5" x2="19.5" y2="299.0" stroke="#000" stroke-width="1.1"/>
<path d="M19.5,296 L17.9,299.5 L21.1,299.5 Z" fill="#000"/>
<text x="25.5" y="353.9" font-size="6.9" font-weight="bold" fill="#000" text-anchor="start">CD38</text>
<line x1="42.5" y1="350.6" x2="69.5" y2="350.6" stroke="#000" stroke-width="1.1"/>
<path d="M72.5,350.6 L69.0,349.0 L69.0,352.20000000000005 Z" fill="#000"/>
<line x1="84" y1="312" x2="84" y2="173.5" stroke="#000" stroke-width="1.1"/>
<path d="M84,170 L82.2,174 L85.8,174 Z" fill="#000"/>
<text x="87.5" y="331" font-size="7" font-weight="bold" fill="#000" text-anchor="start" transform="rotate(-90 87.5 331)">IL-10</text>
<rect x="91.7" y="168.2" width="26" height="25.600000000000023" stroke="#d0d0d0" stroke-width="0.5" fill="none"/>
<line x1="91.7" y1="171.2" x2="92.9" y2="171.2" stroke="#bbb" stroke-width="0.4"/>
<rect x="89.10000000000001" y="170.7" width="1.8" height="1" fill="#ddd"/>
<line x1="91.7" y1="176.2" x2="92.9" y2="176.2" stroke="#bbb" stroke-width="0.4"/>
<rect x="89.10000000000001" y="175.7" width="1.8" height="1" fill="#ddd"/>
<line x1="91.7" y1="181.2" x2="92.9" y2="181.2" stroke="#bbb" stroke-width="0.4"/>
<rect x="89.10000000000001" y="180.7" width="1.8" height="1" fill="#ddd"/>
<line x1="91.7" y1="186.2" x2="92.9" y2="186.2" stroke="#bbb" stroke-width="0.4"/>
<rect x="89.10000000000001" y="185.7" width="1.8" height="1" fill="#ddd"/>
<line x1="91.7" y1="191.2" x2="92.9" y2="191.2" stroke="#bbb" stroke-width="0.4"/>
<rect x="89.10000000000001" y="190.7" width="1.8" height="1" fill="#ddd"/>
<line x1="95.7" y1="193.8" x2="95.7" y2="194.8" stroke="#bbb" stroke-width="0.4"/>
<line x1="101.7" y1="193.8" x2="101.7" y2="194.8" stroke="#bbb" stroke-width="0.4"/>
<line x1="107.7" y1="193.8" x2="107.7" y2="194.8" stroke="#bbb" stroke-width="0.4"/>
<line x1="113.7" y1="193.8" x2="113.7" y2="194.8" stroke="#bbb" stroke-width="0.4"/>
<ellipse cx="105.10000000000001" cy="188.2" rx="2.7" ry="4.3" fill="#555" opacity="0.85" filter="url(#blur08)"/>
<rect x="99.2" y="170" width="11.8" height="14.599999999999994" stroke="#000" stroke-width="1.3" fill="none"/>
<text x="105.10000000000001" y="174.8" font-size="4.8" font-weight="bold" fill="#000" text-anchor="middle" stroke="#000" stroke-width="0.2">1%</text>
<text x="107" y="158.8" font-size="6.6" text-anchor="middle" stroke="#000" stroke-width="0.35">CD24+</text>
<text x="107" y="166.3" font-size="6.6" text-anchor="middle" stroke="#000" stroke-width="0.35">CD27-</text>
<rect x="122.5" y="168.2" width="26" height="25.600000000000023" stroke="#d0d0d0" stroke-width="0.5" fill="none"/>
<line x1="122.5" y1="171.2" x2="123.7" y2="171.2" stroke="#bbb" stroke-width="0.4"/>
<rect x="119.9" y="170.7" width="1.8" height="1" fill="#ddd"/>
<line x1="122.5" y1="176.2" x2="123.7" y2="176.2" stroke="#bbb" stroke-width="0.4"/>
<rect x="119.9" y="175.7" width="1.8" height="1" fill="#ddd"/>
<line x1="122.5" y1="181.2" x2="123.7" y2="181.2" stroke="#bbb" stroke-width="0.4"/>
<rect x="119.9" y="180.7" width="1.8" height="1" fill="#ddd"/>
<line x1="122.5" y1="186.2" x2="123.7" y2="186.2" stroke="#bbb" stroke-width="0.4"/>
<rect x="119.9" y="185.7" width="1.8" height="1" fill="#ddd"/>
<line x1="122.5" y1="191.2" x2="123.7" y2="191.2" stroke="#bbb" stroke-width="0.4"/>
<rect x="119.9" y="190.7" width="1.8" height="1" fill="#ddd"/>
<line x1="126.5" y1="193.8" x2="126.5" y2="194.8" stroke="#bbb" stroke-width="0.4"/>
<line x1="132.5" y1="193.8" x2="132.5" y2="194.8" stroke="#bbb" stroke-width="0.4"/>
<line x1="138.5" y1="193.8" x2="138.5" y2="194.8" stroke="#bbb" stroke-width="0.4"/>
<line x1="144.5" y1="193.8" x2="144.5" y2="194.8" stroke="#bbb" stroke-width="0.4"/>
<ellipse cx="136.5" cy="188.2" rx="2.7" ry="4.3" fill="#555" opacity="0.85" filter="url(#blur08)"/>
<rect x="130.6" y="170" width="11.8" height="14.599999999999994" stroke="#000" stroke-width="1.3" fill="none"/>
<text x="136.5" y="174.8" font-size="4.8" font-weight="bold" fill="#000" text-anchor="middle" stroke="#000" stroke-width="0.2">5%</text>
<text x="140.6" y="158.8" font-size="6.6" text-anchor="middle" stroke="#000" stroke-width="0.35">CD24+</text>
<text x="140.6" y="166.3" font-size="6.6" text-anchor="middle" stroke="#000" stroke-width="0.35">CD27+</text>
<rect x="154" y="168.2" width="26" height="25.600000000000023" stroke="#d0d0d0" stroke-width="0.5" fill="none"/>
<line x1="154" y1="171.2" x2="155.2" y2="171.2" stroke="#bbb" stroke-width="0.4"/>
<rect x="151.4" y="170.7" width="1.8" height="1" fill="#ddd"/>
<line x1="154" y1="176.2" x2="155.2" y2="176.2" stroke="#bbb" stroke-width="0.4"/>
<rect x="151.4" y="175.7" width="1.8" height="1" fill="#ddd"/>
<line x1="154" y1="181.2" x2="155.2" y2="181.2" stroke="#bbb" stroke-width="0.4"/>
<rect x="151.4" y="180.7" width="1.8" height="1" fill="#ddd"/>
<line x1="154" y1="186.2" x2="155.2" y2="186.2" stroke="#bbb" stroke-width="0.4"/>
<rect x="151.4" y="185.7" width="1.8" height="1" fill="#ddd"/>
<line x1="154" y1="191.2" x2="155.2" y2="191.2" stroke="#bbb" stroke-width="0.4"/>
<rect x="151.4" y="190.7" width="1.8" height="1" fill="#ddd"/>
<line x1="158" y1="193.8" x2="158" y2="194.8" stroke="#bbb" stroke-width="0.4"/>
<line x1="164" y1="193.8" x2="164" y2="194.8" stroke="#bbb" stroke-width="0.4"/>
<line x1="170" y1="193.8" x2="170" y2="194.8" stroke="#bbb" stroke-width="0.4"/>
<line x1="176" y1="193.8" x2="176" y2="194.8" stroke="#bbb" stroke-width="0.4"/>
<ellipse cx="168.9" cy="188.2" rx="2.7" ry="4.3" fill="#555" opacity="0.85" filter="url(#blur08)"/>
<rect x="163" y="170" width="11.8" height="14.599999999999994" stroke="#000" stroke-width="1.3" fill="none"/>
<text x="168.9" y="174.8" font-size="4.8" font-weight="bold" fill="#000" text-anchor="middle" stroke="#000" stroke-width="0.2">6%</text>
<text x="171.6" y="158.8" font-size="6.6" text-anchor="middle" stroke="#000" stroke-width="0.35">CD24-</text>
<text x="171.6" y="166.3" font-size="6.6" text-anchor="middle" stroke="#000" stroke-width="0.35">CD27+</text>
<rect x="186" y="168.2" width="26" height="25.600000000000023" stroke="#d0d0d0" stroke-width="0.5" fill="none"/>
<line x1="186" y1="171.2" x2="187.2" y2="171.2" stroke="#bbb" stroke-width="0.4"/>
<rect x="183.4" y="170.7" width="1.8" height="1" fill="#ddd"/>
<line x1="186" y1="176.2" x2="187.2" y2="176.2" stroke="#bbb" stroke-width="0.4"/>
<rect x="183.4" y="175.7" width="1.8" height="1" fill="#ddd"/>
<line x1="186" y1="181.2" x2="187.2" y2="181.2" stroke="#bbb" stroke-width="0.4"/>
<rect x="183.4" y="180.7" width="1.8" height="1" fill="#ddd"/>
<line x1="186" y1="186.2" x2="187.2" y2="186.2" stroke="#bbb" stroke-width="0.4"/>
<rect x="183.4" y="185.7" width="1.8" height="1" fill="#ddd"/>
<line x1="186" y1="191.2" x2="187.2" y2="191.2" stroke="#bbb" stroke-width="0.4"/>
<rect x="183.4" y="190.7" width="1.8" height="1" fill="#ddd"/>
<line x1="190" y1="193.8" x2="190" y2="194.8" stroke="#bbb" stroke-width="0.4"/>
<line x1="196" y1="193.8" x2="196" y2="194.8" stroke="#bbb" stroke-width="0.4"/>
<line x1="202" y1="193.8" x2="202" y2="194.8" stroke="#bbb" stroke-width="0.4"/>
<line x1="208" y1="193.8" x2="208" y2="194.8" stroke="#bbb" stroke-width="0.4"/>
<ellipse cx="200.4" cy="188.2" rx="2.7" ry="4.3" fill="#555" opacity="0.85" filter="url(#blur08)"/>
<rect x="194.5" y="170" width="11.8" height="14.599999999999994" stroke="#000" stroke-width="1.3" fill="none"/>
<text x="200.4" y="174.8" font-size="4.8" font-weight="bold" fill="#000" text-anchor="middle" stroke="#000" stroke-width="0.2">1.1%</text>
<text x="203.1" y="158.8" font-size="6.6" text-anchor="middle" stroke="#000" stroke-width="0.35">CD24-</text>
<text x="203.1" y="166.3" font-size="6.6" text-anchor="middle" stroke="#000" stroke-width="0.35">CD27-</text>
<text x="92.7" y="203.7" font-size="6.9" stroke="#000" stroke-width="0.4">CD19</text>
<line x1="110.5" y1="203" x2="209.5" y2="203" stroke="#111" stroke-width="1.05"/>
<path d="M213,203 L209,201.2 L209,204.8 Z" fill="#111"/>
<rect x="91.7" y="239.7" width="26" height="25.30000000000001" stroke="#d0d0d0" stroke-width="0.5" fill="none"/>
<line x1="91.7" y1="242.7" x2="92.9" y2="242.7" stroke="#bbb" stroke-width="0.4"/>
<rect x="89.10000000000001" y="242.2" width="1.8" height="1" fill="#ddd"/>
<line x1="91.7" y1="247.7" x2="92.9" y2="247.7" stroke="#bbb" stroke-width="0.4"/>
<rect x="89.10000000000001" y="247.2" width="1.8" height="1" fill="#ddd"/>
<line x1="91.7" y1="252.7" x2="92.9" y2="252.7" stroke="#bbb" stroke-width="0.4"/>
<rect x="89.10000000000001" y="252.2" width="1.8" height="1" fill="#ddd"/>
<line x1="91.7" y1="257.7" x2="92.9" y2="257.7" stroke="#bbb" stroke-width="0.4"/>
<rect x="89.10000000000001" y="257.2" width="1.8" height="1" fill="#ddd"/>
<line x1="91.7" y1="262.7" x2="92.9" y2="262.7" stroke="#bbb" stroke-width="0.4"/>
<rect x="89.10000000000001" y="262.2" width="1.8" height="1" fill="#ddd"/>
<line x1="95.7" y1="265" x2="95.7" y2="266" stroke="#bbb" stroke-width="0.4"/>
<line x1="101.7" y1="265" x2="101.7" y2="266" stroke="#bbb" stroke-width="0.4"/>
<line x1="107.7" y1="265" x2="107.7" y2="266" stroke="#bbb" stroke-width="0.4"/>
<line x1="113.7" y1="265" x2="113.7" y2="266" stroke="#bbb" stroke-width="0.4"/>
<ellipse cx="105.10000000000001" cy="259.90000000000003" rx="2.7" ry="4.3" fill="#555" opacity="0.85" filter="url(#blur08)"/>
<rect x="99.2" y="242.2" width="11.8" height="14.100000000000023" stroke="#000" stroke-width="1.3" fill="none"/>
<text x="105.10000000000001" y="247.0" font-size="4.8" font-weight="bold" fill="#000" text-anchor="middle" stroke="#000" stroke-width="0.2">4.1%</text>
<text x="107" y="230.3" font-size="6.6" text-anchor="middle" stroke="#000" stroke-width="0.35">CD27-</text>
<text x="107" y="237.6" font-size="6.6" text-anchor="middle" stroke="#000" stroke-width="0.35">CD38-</text>
<rect x="122.5" y="239.7" width="26" height="25.30000000000001" stroke="#d0d0d0" stroke-width="0.5" fill="none"/>
<line x1="122.5" y1="242.7" x2="123.7" y2="242.7" stroke="#bbb" stroke-width="0.4"/>
<rect x="119.9" y="242.2" width="1.8" height="1" fill="#ddd"/>
<line x1="122.5" y1="247.7" x2="123.7" y2="247.7" stroke="#bbb" stroke-width="0.4"/>
<rect x="119.9" y="247.2" width="1.8" height="1" fill="#ddd"/>
<line x1="122.5" y1="252.7" x2="123.7" y2="252.7" stroke="#bbb" stroke-width="0.4"/>
<rect x="119.9" y="252.2" width="1.8" height="1" fill="#ddd"/>
<line x1="122.5" y1="257.7" x2="123.7" y2="257.7" stroke="#bbb" stroke-width="0.4"/>
<rect x="119.9" y="257.2" width="1.8" height="1" fill="#ddd"/>
<line x1="122.5" y1="262.7" x2="123.7" y2="262.7" stroke="#bbb" stroke-width="0.4"/>
<rect x="119.9" y="262.2" width="1.8" height="1" fill="#ddd"/>
<line x1="126.5" y1="265" x2="126.5" y2="266" stroke="#bbb" stroke-width="0.4"/>
<line x1="132.5" y1="265" x2="132.5" y2="266" stroke="#bbb" stroke-width="0.4"/>
<line x1="138.5" y1="265" x2="138.5" y2="266" stroke="#bbb" stroke-width="0.4"/>
<line x1="144.5" y1="265" x2="144.5" y2="266" stroke="#bbb" stroke-width="0.4"/>
<ellipse cx="136.5" cy="259.90000000000003" rx="2.7" ry="4.3" fill="#555" opacity="0.85" filter="url(#blur08)"/>
<rect x="130.6" y="242.2" width="11.8" height="14.100000000000023" stroke="#000" stroke-width="1.3" fill="none"/>
<text x="136.5" y="247.0" font-size="4.8" font-weight="bold" fill="#000" text-anchor="middle" stroke="#000" stroke-width="0.2">3.4%</text>
<text x="140.6" y="230.3" font-size="6.6" text-anchor="middle" stroke="#000" stroke-width="0.35">CD27+</text>
<text x="140.6" y="237.6" font-size="6.6" text-anchor="middle" stroke="#000" stroke-width="0.35">CD38-</text>
<rect x="154" y="239.7" width="26" height="25.30000000000001" stroke="#d0d0d0" stroke-width="0.5" fill="none"/>
<line x1="154" y1="242.7" x2="155.2" y2="242.7" stroke="#bbb" stroke-width="0.4"/>
<rect x="151.4" y="242.2" width="1.8" height="1" fill="#ddd"/>
<line x1="154" y1="247.7" x2="155.2" y2="247.7" stroke="#bbb" stroke-width="0.4"/>
<rect x="151.4" y="247.2" width="1.8" height="1" fill="#ddd"/>
<line x1="154" y1="252.7" x2="155.2" y2="252.7" stroke="#bbb" stroke-width="0.4"/>
<rect x="151.4" y="252.2" width="1.8" height="1" fill="#ddd"/>
<line x1="154" y1="257.7" x2="155.2" y2="257.7" stroke="#bbb" stroke-width="0.4"/>
<rect x="151.4" y="257.2" width="1.8" height="1" fill="#ddd"/>
<line x1="154" y1="262.7" x2="155.2" y2="262.7" stroke="#bbb" stroke-width="0.4"/>
<rect x="151.4" y="262.2" width="1.8" height="1" fill="#ddd"/>
<line x1="158" y1="265" x2="158" y2="266" stroke="#bbb" stroke-width="0.4"/>
<line x1="164" y1="265" x2="164" y2="266" stroke="#bbb" stroke-width="0.4"/>
<line x1="170" y1="265" x2="170" y2="266" stroke="#bbb" stroke-width="0.4"/>
<line x1="176" y1="265" x2="176" y2="266" stroke="#bbb" stroke-width="0.4"/>
<ellipse cx="168.9" cy="259.90000000000003" rx="2.7" ry="4.3" fill="#555" opacity="0.85" filter="url(#blur08)"/>
<rect x="163" y="242.2" width="11.8" height="14.100000000000023" stroke="#000" stroke-width="1.3" fill="none"/>
<text x="168.9" y="247.0" font-size="4.8" font-weight="bold" fill="#000" text-anchor="middle" stroke="#000" stroke-width="0.2">12%</text>
<text x="171.6" y="230.3" font-size="6.6" text-anchor="middle" stroke="#000" stroke-width="0.35">CD27+</text>
<text x="171.6" y="237.6" font-size="6.6" text-anchor="middle" stroke="#000" stroke-width="0.35">CD38+</text>
<rect x="186" y="239.7" width="26" height="25.30000000000001" stroke="#d0d0d0" stroke-width="0.5" fill="none"/>
<line x1="186" y1="242.7" x2="187.2" y2="242.7" stroke="#bbb" stroke-width="0.4"/>
<rect x="183.4" y="242.2" width="1.8" height="1" fill="#ddd"/>
<line x1="186" y1="247.7" x2="187.2" y2="247.7" stroke="#bbb" stroke-width="0.4"/>
<rect x="183.4" y="247.2" width="1.8" height="1" fill="#ddd"/>
<line x1="186" y1="252.7" x2="187.2" y2="252.7" stroke="#bbb" stroke-width="0.4"/>
<rect x="183.4" y="252.2" width="1.8" height="1" fill="#ddd"/>
<line x1="186" y1="257.7" x2="187.2" y2="257.7" stroke="#bbb" stroke-width="0.4"/>
<rect x="183.4" y="257.2" width="1.8" height="1" fill="#ddd"/>
<line x1="186" y1="262.7" x2="187.2" y2="262.7" stroke="#bbb" stroke-width="0.4"/>
<rect x="183.4" y="262.2" width="1.8" height="1" fill="#ddd"/>
<line x1="190" y1="265" x2="190" y2="266" stroke="#bbb" stroke-width="0.4"/>
<line x1="196" y1="265" x2="196" y2="266" stroke="#bbb" stroke-width="0.4"/>
<line x1="202" y1="265" x2="202" y2="266" stroke="#bbb" stroke-width="0.4"/>
<line x1="208" y1="265" x2="208" y2="266" stroke="#bbb" stroke-width="0.4"/>
<ellipse cx="200.4" cy="259.90000000000003" rx="2.7" ry="4.3" fill="#555" opacity="0.85" filter="url(#blur08)"/>
<rect x="194.5" y="242.2" width="11.8" height="14.100000000000023" stroke="#000" stroke-width="1.3" fill="none"/>
<text x="200.4" y="247.0" font-size="4.8" font-weight="bold" fill="#000" text-anchor="middle" stroke="#000" stroke-width="0.2">6.6%</text>
<text x="203.1" y="230.3" font-size="6.6" text-anchor="middle" stroke="#000" stroke-width="0.35">CD27-</text>
<text x="203.1" y="237.6" font-size="6.6" text-anchor="middle" stroke="#000" stroke-width="0.35">CD38+</text>
<text x="92.7" y="276.2" font-size="6.9" stroke="#000" stroke-width="0.4">CD19</text>
<line x1="110.5" y1="274.6" x2="209.5" y2="274.6" stroke="#111" stroke-width="1.05"/>
<path d="M213,274.6 L209,272.8 L209,276.40000000000003 Z" fill="#111"/>
<rect x="91.7" y="306" width="26" height="26.5" stroke="#d0d0d0" stroke-width="0.5" fill="none"/>
<line x1="91.7" y1="309" x2="92.9" y2="309" stroke="#bbb" stroke-width="0.4"/>
<rect x="89.10000000000001" y="308.5" width="1.8" height="1" fill="#ddd"/>
<line x1="91.7" y1="314" x2="92.9" y2="314" stroke="#bbb" stroke-width="0.4"/>
<rect x="89.10000000000001" y="313.5" width="1.8" height="1" fill="#ddd"/>
<line x1="91.7" y1="319" x2="92.9" y2="319" stroke="#bbb" stroke-width="0.4"/>
<rect x="89.10000000000001" y="318.5" width="1.8" height="1" fill="#ddd"/>
<line x1="91.7" y1="324" x2="92.9" y2="324" stroke="#bbb" stroke-width="0.4"/>
<rect x="89.10000000000001" y="323.5" width="1.8" height="1" fill="#ddd"/>
<line x1="91.7" y1="329" x2="92.9" y2="329" stroke="#bbb" stroke-width="0.4"/>
<rect x="89.10000000000001" y="328.5" width="1.8" height="1" fill="#ddd"/>
<line x1="95.7" y1="332.5" x2="95.7" y2="333.5" stroke="#bbb" stroke-width="0.4"/>
<line x1="101.7" y1="332.5" x2="101.7" y2="333.5" stroke="#bbb" stroke-width="0.4"/>
<line x1="107.7" y1="332.5" x2="107.7" y2="333.5" stroke="#bbb" stroke-width="0.4"/>
<line x1="113.7" y1="332.5" x2="113.7" y2="333.5" stroke="#bbb" stroke-width="0.4"/>
<ellipse cx="105.10000000000001" cy="326.40000000000003" rx="2.7" ry="4.3" fill="#555" opacity="0.85" filter="url(#blur08)"/>
<rect x="99.2" y="308.3" width="11.8" height="14.5" stroke="#000" stroke-width="1.3" fill="none"/>
<text x="105.10000000000001" y="313.1" font-size="4.8" font-weight="bold" fill="#000" text-anchor="middle" stroke="#000" stroke-width="0.2">2.3%</text>
<text x="106.2" y="303.6" font-size="6.9" text-anchor="middle" stroke="#000" stroke-width="0.35">MATURE</text>
<rect x="122.5" y="306" width="26" height="26.5" stroke="#d0d0d0" stroke-width="0.5" fill="none"/>
<line x1="122.5" y1="309" x2="123.7" y2="309" stroke="#bbb" stroke-width="0.4"/>
<rect x="119.9" y="308.5" width="1.8" height="1" fill="#ddd"/>
<line x1="122.5" y1="314" x2="123.7" y2="314" stroke="#bbb" stroke-width="0.4"/>
<rect x="119.9" y="313.5" width="1.8" height="1" fill="#ddd"/>
<line x1="122.5" y1="319" x2="123.7" y2="319" stroke="#bbb" stroke-width="0.4"/>
<rect x="119.9" y="318.5" width="1.8" height="1" fill="#ddd"/>
<line x1="122.5" y1="324" x2="123.7" y2="324" stroke="#bbb" stroke-width="0.4"/>
<rect x="119.9" y="323.5" width="1.8" height="1" fill="#ddd"/>
<line x1="122.5" y1="329" x2="123.7" y2="329" stroke="#bbb" stroke-width="0.4"/>
<rect x="119.9" y="328.5" width="1.8" height="1" fill="#ddd"/>
<line x1="126.5" y1="332.5" x2="126.5" y2="333.5" stroke="#bbb" stroke-width="0.4"/>
<line x1="132.5" y1="332.5" x2="132.5" y2="333.5" stroke="#bbb" stroke-width="0.4"/>
<line x1="138.5" y1="332.5" x2="138.5" y2="333.5" stroke="#bbb" stroke-width="0.4"/>
<line x1="144.5" y1="332.5" x2="144.5" y2="333.5" stroke="#bbb" stroke-width="0.4"/>
<ellipse cx="136.5" cy="326.40000000000003" rx="2.7" ry="4.3" fill="#555" opacity="0.85" filter="url(#blur08)"/>
<rect x="130.6" y="308.3" width="11.8" height="14.5" stroke="#000" stroke-width="1.3" fill="none"/>
<text x="136.5" y="313.1" font-size="4.8" font-weight="bold" fill="#000" text-anchor="middle" stroke="#000" stroke-width="0.2">2.9%</text>
<text x="138.8" y="303.6" font-size="6.9" text-anchor="middle" stroke="#000" stroke-width="0.35">MEMORY</text>
<rect x="154" y="306" width="26" height="26.5" stroke="#d0d0d0" stroke-width="0.5" fill="none"/>
<line x1="154" y1="309" x2="155.2" y2="309" stroke="#bbb" stroke-width="0.4"/>
<rect x="151.4" y="308.5" width="1.8" height="1" fill="#ddd"/>
<line x1="154" y1="314" x2="155.2" y2="314" stroke="#bbb" stroke-width="0.4"/>
<rect x="151.4" y="313.5" width="1.8" height="1" fill="#ddd"/>
<line x1="154" y1="319" x2="155.2" y2="319" stroke="#bbb" stroke-width="0.4"/>
<rect x="151.4" y="318.5" width="1.8" height="1" fill="#ddd"/>
<line x1="154" y1="324" x2="155.2" y2="324" stroke="#bbb" stroke-width="0.4"/>
<rect x="151.4" y="323.5" width="1.8" height="1" fill="#ddd"/>
<line x1="154" y1="329" x2="155.2" y2="329" stroke="#bbb" stroke-width="0.4"/>
<rect x="151.4" y="328.5" width="1.8" height="1" fill="#ddd"/>
<line x1="158" y1="332.5" x2="158" y2="333.5" stroke="#bbb" stroke-width="0.4"/>
<line x1="164" y1="332.5" x2="164" y2="333.5" stroke="#bbb" stroke-width="0.4"/>
<line x1="170" y1="332.5" x2="170" y2="333.5" stroke="#bbb" stroke-width="0.4"/>
<line x1="176" y1="332.5" x2="176" y2="333.5" stroke="#bbb" stroke-width="0.4"/>
<ellipse cx="168.9" cy="326.40000000000003" rx="2.7" ry="4.3" fill="#555" opacity="0.85" filter="url(#blur08)"/>
<rect x="163" y="308.3" width="11.8" height="14.5" stroke="#000" stroke-width="1.3" fill="none"/>
<text x="168.9" y="313.1" font-size="4.8" font-weight="bold" fill="#000" text-anchor="middle" stroke="#000" stroke-width="0.2">10%</text>
<text x="169.8" y="303.6" font-size="6.9" text-anchor="middle" stroke="#000" stroke-width="0.35">PB</text>
<rect x="186" y="306" width="26" height="26.5" stroke="#d0d0d0" stroke-width="0.5" fill="none"/>
<line x1="186" y1="309" x2="187.2" y2="309" stroke="#bbb" stroke-width="0.4"/>
<rect x="183.4" y="308.5" width="1.8" height="1" fill="#ddd"/>
<line x1="186" y1="314" x2="187.2" y2="314" stroke="#bbb" stroke-width="0.4"/>
<rect x="183.4" y="313.5" width="1.8" height="1" fill="#ddd"/>
<line x1="186" y1="319" x2="187.2" y2="319" stroke="#bbb" stroke-width="0.4"/>
<rect x="183.4" y="318.5" width="1.8" height="1" fill="#ddd"/>
<line x1="186" y1="324" x2="187.2" y2="324" stroke="#bbb" stroke-width="0.4"/>
<rect x="183.4" y="323.5" width="1.8" height="1" fill="#ddd"/>
<line x1="186" y1="329" x2="187.2" y2="329" stroke="#bbb" stroke-width="0.4"/>
<rect x="183.4" y="328.5" width="1.8" height="1" fill="#ddd"/>
<line x1="190" y1="332.5" x2="190" y2="333.5" stroke="#bbb" stroke-width="0.4"/>
<line x1="196" y1="332.5" x2="196" y2="333.5" stroke="#bbb" stroke-width="0.4"/>
<line x1="202" y1="332.5" x2="202" y2="333.5" stroke="#bbb" stroke-width="0.4"/>
<line x1="208" y1="332.5" x2="208" y2="333.5" stroke="#bbb" stroke-width="0.4"/>
<ellipse cx="200.4" cy="326.40000000000003" rx="2.7" ry="4.3" fill="#555" opacity="0.85" filter="url(#blur08)"/>
<rect x="194.5" y="308.3" width="11.8" height="14.5" stroke="#000" stroke-width="1.3" fill="none"/>
<text x="200.4" y="313.1" font-size="4.8" font-weight="bold" fill="#000" text-anchor="middle" stroke="#000" stroke-width="0.2">1.3%</text>
<text x="200.4" y="303.6" font-size="6.9" text-anchor="middle" stroke="#000" stroke-width="0.35">TR</text>
<text x="92.7" y="342.2" font-size="6.9" stroke="#000" stroke-width="0.4">CD19</text>
<line x1="110.5" y1="340.8" x2="209.5" y2="340.8" stroke="#111" stroke-width="1.05"/>
<path d="M213,340.8 L209,339.0 L209,342.6 Z" fill="#111"/>
<text x="228.5" y="133.8" font-size="12.3" font-weight="bold" fill="#000" text-anchor="start" stroke="#000" stroke-width="0.35">D</text>
<text x="275" y="130.4" font-size="11.6" fill="#000" text-anchor="middle" stroke="#000" stroke-width="0.4">No</text>
<text x="274.5" y="144.3" font-size="11.6" fill="#000" text-anchor="middle" stroke="#000" stroke-width="0.4">GVHD</text>
<text x="344" y="130.4" font-size="11.6" fill="#000" text-anchor="middle" stroke="#000" stroke-width="0.4">Active</text>
<text x="344" y="144.3" font-size="11.6" fill="#000" text-anchor="middle" stroke="#000" stroke-width="0.4">cGVHD</text>
<text x="416.5" y="130.4" font-size="11.6" fill="#000" text-anchor="middle" stroke="#000" stroke-width="0.4">cGVHD</text>
<text x="416.5" y="144.3" font-size="11.6" fill="#000" text-anchor="middle" stroke="#000" stroke-width="0.4">in remission</text>
<text x="485.3" y="141.2" font-size="11.6" fill="#000" text-anchor="middle" stroke="#000" stroke-width="0.4">Healthy</text>
<line x1="249.9" y1="162" x2="249.9" y2="199.75" stroke="#222" stroke-width="0.9"/>
<line x1="249.9" y1="199.75" x2="303.5" y2="199.75" stroke="#999" stroke-width="0.6"/>
<line x1="248.70000000000002" y1="199.75" x2="249.9" y2="199.75" stroke="#555" stroke-width="0.5"/>
<text x="248.1" y="200.85" font-size="3" fill="#555" text-anchor="end">0</text>
<line x1="248.70000000000002" y1="192.2" x2="249.9" y2="192.2" stroke="#555" stroke-width="0.5"/>
<text x="248.1" y="193.30" font-size="3" fill="#555" text-anchor="end">5</text>
<line x1="248.70000000000002" y1="184.65" x2="249.9" y2="184.65" stroke="#555" stroke-width="0.5"/>
<text x="248.1" y="185.75" font-size="3" fill="#555" text-anchor="end">10</text>
<line x1="248.70000000000002" y1="177.1" x2="249.9" y2="177.1" stroke="#555" stroke-width="0.5"/>
<text x="248.1" y="178.20" font-size="3" fill="#555" text-anchor="end">15</text>
<line x1="248.70000000000002" y1="169.55" x2="249.9" y2="169.55" stroke="#555" stroke-width="0.5"/>
<text x="248.1" y="170.65" font-size="3" fill="#555" text-anchor="end">20</text>
<line x1="248.70000000000002" y1="162.0" x2="249.9" y2="162.0" stroke="#555" stroke-width="0.5"/>
<text x="248.1" y="163.10" font-size="3" fill="#555" text-anchor="end">25</text>
<text x="243.3" y="202.75" font-size="3.4" fill="#444" textLength="43.75" lengthAdjust="spacingAndGlyphs" transform="rotate(-90 243.3 202.75)">IL-10+ cells (% of CD19+ cell subset)</text>
<line x1="255.9" y1="186.9" x2="255.9" y2="189.4" stroke="#333" stroke-width="1.0"/>
<line x1="253.5" y1="186.9" x2="258.3" y2="186.9" stroke="#333" stroke-width="1.0"/>
<rect x="251.5" y="189.4" width="8.8" height="10.349999999999994" stroke="#333" stroke-width="1.05" fill="#fff"/>
<line x1="255.9" y1="199.75" x2="255.9" y2="200.95" stroke="#555" stroke-width="0.5"/>
<text x="258" y="203.75" font-size="3.6" fill="#666" text-anchor="end" transform="rotate(-45 258 203.75)">24+27-</text>
<line x1="270.15" y1="177.75" x2="270.15" y2="186.25" stroke="#333" stroke-width="1.0"/>
<line x1="267.75" y1="177.75" x2="272.55" y2="177.75" stroke="#333" stroke-width="1.0"/>
<rect x="265.75" y="186.25" width="8.8" height="13.5" stroke="#333" stroke-width="1.05" fill="#fff"/>
<line x1="270.15" y1="199.75" x2="270.15" y2="200.95" stroke="#555" stroke-width="0.5"/>
<text x="272.25" y="203.75" font-size="3.6" fill="#666" text-anchor="end" transform="rotate(-45 272.25 203.75)">24+27+</text>
<rect x="279.75" y="188.1" width="8.8" height="11.650000000000006" stroke="#333" stroke-width="1.05" fill="#fff"/>
<line x1="284.15" y1="199.75" x2="284.15" y2="200.95" stroke="#555" stroke-width="0.5"/>
<text x="286.25" y="203.75" font-size="3.6" fill="#666" text-anchor="end" transform="rotate(-45 286.25 203.75)">24-27+</text>
<line x1="297.9" y1="191" x2="297.9" y2="194.4" stroke="#333" stroke-width="1.0"/>
<line x1="295.5" y1="191" x2="300.3" y2="191" stroke="#333" stroke-width="1.0"/>
<rect x="293.5" y="194.4" width="8.8" height="5.349999999999994" stroke="#333" stroke-width="1.05" fill="#fff"/>
<line x1="297.9" y1="199.75" x2="297.9" y2="200.95" stroke="#555" stroke-width="0.5"/>
<text x="300" y="203.75" font-size="3.6" fill="#666" text-anchor="end" transform="rotate(-45 300 203.75)">24-27-</text>
<line x1="254" y1="163.5" x2="268" y2="163.5" stroke="#444" stroke-width="0.9"/>
<text x="261.0" y="162.5" font-size="3.4" fill="#666" text-anchor="middle">NS</text>
<line x1="270.6" y1="163.5" x2="285" y2="163.5" stroke="#444" stroke-width="0.9"/>
<text x="277.8" y="162.5" font-size="3.4" fill="#666" text-anchor="middle">NS</text>
<line x1="271" y1="158.75" x2="299" y2="158.75" stroke="#444" stroke-width="0.9"/>
<text x="285.0" y="157.55" font-size="5.2" font-weight="bold" fill="#555" text-anchor="middle">**</text>
<line x1="320.25" y1="163" x2="320.25" y2="201.5" stroke="#222" stroke-width="0.9"/>
<line x1="320.25" y1="201.5" x2="377.5" y2="201.5" stroke="#999" stroke-width="0.6"/>
<line x1="319.05" y1="201.5" x2="320.25" y2="201.5" stroke="#555" stroke-width="0.5"/>
<text x="318.45" y="202.60" font-size="3" fill="#555" text-anchor="end">0</text>
<line x1="319.05" y1="193.8" x2="320.25" y2="193.8" stroke="#555" stroke-width="0.5"/>
<text x="318.45" y="194.90" font-size="3" fill="#555" text-anchor="end">5</text>
<line x1="319.05" y1="186.1" x2="320.25" y2="186.1" stroke="#555" stroke-width="0.5"/>
<text x="318.45" y="187.20" font-size="3" fill="#555" text-anchor="end">10</text>
<line x1="319.05" y1="178.4" x2="320.25" y2="178.4" stroke="#555" stroke-width="0.5"/>
<text x="318.45" y="179.50" font-size="3" fill="#555" text-anchor="end">15</text>
<line x1="319.05" y1="170.7" x2="320.25" y2="170.7" stroke="#555" stroke-width="0.5"/>
<text x="318.45" y="171.80" font-size="3" fill="#555" text-anchor="end">20</text>
<line x1="319.05" y1="163.0" x2="320.25" y2="163.0" stroke="#555" stroke-width="0.5"/>
<text x="318.45" y="164.10" font-size="3" fill="#555" text-anchor="end">25</text>
<text x="313.65" y="204.5" font-size="3.4" fill="#444" textLength="44.5" lengthAdjust="spacingAndGlyphs" transform="rotate(-90 313.65 204.5)">IL-10+ cells (% of CD19+ cell subset)</text>
<line x1="326.9" y1="196.25" x2="326.9" y2="200" stroke="#333" stroke-width="1.0"/>
<line x1="324.5" y1="196.25" x2="329.3" y2="196.25" stroke="#333" stroke-width="1.0"/>
<rect x="322.5" y="200" width="8.8" height="1.5" stroke="#333" stroke-width="1.05" fill="#fff"/>
<line x1="326.9" y1="201.5" x2="326.9" y2="202.7" stroke="#555" stroke-width="0.5"/>
<text x="329" y="205.5" font-size="3.6" fill="#666" text-anchor="end" transform="rotate(-45 329 205.5)">24+27-</text>
<line x1="341.9" y1="186.5" x2="341.9" y2="196.5" stroke="#333" stroke-width="1.0"/>
<line x1="339.5" y1="186.5" x2="344.3" y2="186.5" stroke="#333" stroke-width="1.0"/>
<rect x="337.5" y="196.5" width="8.8" height="5.0" stroke="#333" stroke-width="1.05" fill="#fff"/>
<line x1="341.9" y1="201.5" x2="341.9" y2="202.7" stroke="#555" stroke-width="0.5"/>
<text x="344" y="205.5" font-size="3.6" fill="#666" text-anchor="end" transform="rotate(-45 344 205.5)">24+27+</text>
<line x1="356.9" y1="192.25" x2="356.9" y2="196.25" stroke="#333" stroke-width="1.0"/>
<line x1="354.5" y1="192.25" x2="359.3" y2="192.25" stroke="#333" stroke-width="1.0"/>
<rect x="352.5" y="196.25" width="8.8" height="5.25" stroke="#333" stroke-width="1.05" fill="#fff"/>
<line x1="356.9" y1="201.5" x2="356.9" y2="202.7" stroke="#555" stroke-width="0.5"/>
<text x="359" y="205.5" font-size="3.6" fill="#666" text-anchor="end" transform="rotate(-45 359 205.5)">24-27+</text>
<line x1="371.9" y1="198" x2="371.9" y2="200.6" stroke="#333" stroke-width="1.0"/>
<line x1="369.5" y1="198" x2="374.3" y2="198" stroke="#333" stroke-width="1.0"/>
<rect x="367.5" y="200.6" width="8.8" height="0.9000000000000057" stroke="#333" stroke-width="1.05" fill="#fff"/>
<line x1="371.9" y1="201.5" x2="371.9" y2="202.7" stroke="#555" stroke-width="0.5"/>
<text x="374" y="205.5" font-size="3.6" fill="#666" text-anchor="end" transform="rotate(-45 374 205.5)">24-27-</text>
<line x1="325.8" y1="162" x2="340.7" y2="162" stroke="#444" stroke-width="0.9"/>
<text x="333.25" y="161.0" font-size="3.4" fill="#666" text-anchor="middle">NS</text>
<line x1="343" y1="162" x2="359" y2="162" stroke="#444" stroke-width="0.9"/>
<text x="351.0" y="161.0" font-size="3.4" fill="#666" text-anchor="middle">NS</text>
<line x1="343" y1="156.5" x2="372.7" y2="156.5" stroke="#444" stroke-width="0.9"/>
<text x="357.85" y="155.5" font-size="3.4" fill="#666" text-anchor="middle">NS</text>
<line x1="390.9" y1="162" x2="390.9" y2="201.25" stroke="#222" stroke-width="0.9"/>
<line x1="390.9" y1="201.25" x2="447.5" y2="201.25" stroke="#999" stroke-width="0.6"/>
<line x1="389.7" y1="201.25" x2="390.9" y2="201.25" stroke="#555" stroke-width="0.5"/>
<text x="389.09999999999997" y="202.35" font-size="3" fill="#555" text-anchor="end">0</text>
<line x1="389.7" y1="193.4" x2="390.9" y2="193.4" stroke="#555" stroke-width="0.5"/>
<text x="389.09999999999997" y="194.50" font-size="3" fill="#555" text-anchor="end">5</text>
<line x1="389.7" y1="185.55" x2="390.9" y2="185.55" stroke="#555" stroke-width="0.5"/>
<text x="389.09999999999997" y="186.65" font-size="3" fill="#555" text-anchor="end">10</text>
<line x1="389.7" y1="177.7" x2="390.9" y2="177.7" stroke="#555" stroke-width="0.5"/>
<text x="389.09999999999997" y="178.80" font-size="3" fill="#555" text-anchor="end">15</text>
<line x1="389.7" y1="169.85" x2="390.9" y2="169.85" stroke="#555" stroke-width="0.5"/>
<text x="389.09999999999997" y="170.95" font-size="3" fill="#555" text-anchor="end">20</text>
<line x1="389.7" y1="162.0" x2="390.9" y2="162.0" stroke="#555" stroke-width="0.5"/>
<text x="389.09999999999997" y="163.10" font-size="3" fill="#555" text-anchor="end">25</text>
<text x="384.29999999999995" y="204.25" font-size="3.4" fill="#444" textLength="45.25" lengthAdjust="spacingAndGlyphs" transform="rotate(-90 384.29999999999995 204.25)">IL-10+ cells (% of CD19+ cell subset)</text>
<line x1="397.9" y1="180.25" x2="397.9" y2="190.25" stroke="#333" stroke-width="1.0"/>
<line x1="395.5" y1="180.25" x2="400.3" y2="180.25" stroke="#333" stroke-width="1.0"/>
<rect x="393.5" y="190.25" width="8.8" height="11.0" stroke="#333" stroke-width="1.05" fill="#fff"/>
<line x1="397.9" y1="201.25" x2="397.9" y2="202.45" stroke="#555" stroke-width="0.5"/>
<text x="400" y="205.25" font-size="3.6" fill="#666" text-anchor="end" transform="rotate(-45 400 205.25)">24+27-</text>
<line x1="412.65" y1="176.5" x2="412.65" y2="180.25" stroke="#333" stroke-width="1.0"/>
<line x1="410.25" y1="176.5" x2="415.05" y2="176.5" stroke="#333" stroke-width="1.0"/>
<rect x="408.25" y="180.25" width="8.8" height="21.0" stroke="#333" stroke-width="1.05" fill="#fff"/>
<line x1="412.65" y1="201.25" x2="412.65" y2="202.45" stroke="#555" stroke-width="0.5"/>
<text x="414.75" y="205.25" font-size="3.6" fill="#666" text-anchor="end" transform="rotate(-45 414.75 205.25)">24+27+</text>
<line x1="426.9" y1="185.6" x2="426.9" y2="188" stroke="#333" stroke-width="1.0"/>
<line x1="424.5" y1="185.6" x2="429.3" y2="185.6" stroke="#333" stroke-width="1.0"/>
<rect x="422.5" y="188" width="8.8" height="13.25" stroke="#333" stroke-width="1.05" fill="#fff"/>
<line x1="426.9" y1="201.25" x2="426.9" y2="202.45" stroke="#555" stroke-width="0.5"/>
<text x="429" y="205.25" font-size="3.6" fill="#666" text-anchor="end" transform="rotate(-45 429 205.25)">24-27+</text>
<line x1="441.9" y1="193.5" x2="441.9" y2="195.25" stroke="#333" stroke-width="1.0"/>
<line x1="439.5" y1="193.5" x2="444.3" y2="193.5" stroke="#333" stroke-width="1.0"/>
<rect x="437.5" y="195.25" width="8.8" height="6.0" stroke="#333" stroke-width="1.05" fill="#fff"/>
<line x1="441.9" y1="201.25" x2="441.9" y2="202.45" stroke="#555" stroke-width="0.5"/>
<text x="444" y="205.25" font-size="3.6" fill="#666" text-anchor="end" transform="rotate(-45 444 205.25)">24-27-</text>
<line x1="398.8" y1="163" x2="412" y2="163" stroke="#444" stroke-width="0.9"/>
<text x="405.4" y="162.0" font-size="3.4" fill="#666" text-anchor="middle">NS</text>
<line x1="414.7" y1="163" x2="428.8" y2="163" stroke="#444" stroke-width="0.9"/>
<text x="421.75" y="161.8" font-size="5.2" font-weight="bold" fill="#555" text-anchor="middle">*</text>
<line x1="415.3" y1="157.4" x2="443.5" y2="157.4" stroke="#444" stroke-width="0.9"/>
<text x="429.4" y="156.20000000000002" font-size="5.2" font-weight="bold" fill="#555" text-anchor="middle">***</text>
<line x1="461.9" y1="164.6" x2="461.9" y2="203.5" stroke="#222" stroke-width="0.9"/>
<line x1="461.9" y1="203.5" x2="517.75" y2="203.5" stroke="#999" stroke-width="0.6"/>
<line x1="460.7" y1="203.5" x2="461.9" y2="203.5" stroke="#555" stroke-width="0.5"/>
<text x="460.09999999999997" y="204.60" font-size="3" fill="#555" text-anchor="end">0</text>
<line x1="460.7" y1="195.72" x2="461.9" y2="195.72" stroke="#555" stroke-width="0.5"/>
<text x="460.09999999999997" y="196.82" font-size="3" fill="#555" text-anchor="end">5</text>
<line x1="460.7" y1="187.94" x2="461.9" y2="187.94" stroke="#555" stroke-width="0.5"/>
<text x="460.09999999999997" y="189.04" font-size="3" fill="#555" text-anchor="end">10</text>
<line x1="460.7" y1="180.16" x2="461.9" y2="180.16" stroke="#555" stroke-width="0.5"/>
<text x="460.09999999999997" y="181.26" font-size="3" fill="#555" text-anchor="end">15</text>
<line x1="460.7" y1="172.38" x2="461.9" y2="172.38" stroke="#555" stroke-width="0.5"/>
<text x="460.09999999999997" y="173.48" font-size="3" fill="#555" text-anchor="end">20</text>
<line x1="460.7" y1="164.6" x2="461.9" y2="164.6" stroke="#555" stroke-width="0.5"/>
<text x="460.09999999999997" y="165.70" font-size="3" fill="#555" text-anchor="end">25</text>
<text x="455.29999999999995" y="206.5" font-size="3.4" fill="#444" textLength="44.900000000000006" lengthAdjust="spacingAndGlyphs" transform="rotate(-90 455.29999999999995 206.5)">IL-10+ cells (% of CD19+ cell subset)</text>
<line x1="468.9" y1="187.75" x2="468.9" y2="192.25" stroke="#333" stroke-width="1.0"/>
<line x1="466.5" y1="187.75" x2="471.3" y2="187.75" stroke="#333" stroke-width="1.0"/>
<rect x="464.5" y="192.25" width="8.8" height="11.25" stroke="#333" stroke-width="1.05" fill="#fff"/>
<line x1="468.9" y1="203.5" x2="468.9" y2="204.7" stroke="#555" stroke-width="0.5"/>
<text x="471" y="207.5" font-size="3.6" fill="#666" text-anchor="end" transform="rotate(-45 471 207.5)">24+27-</text>
<line x1="483.4" y1="176.5" x2="483.4" y2="185.25" stroke="#333" stroke-width="1.0"/>
<line x1="481.0" y1="176.5" x2="485.8" y2="176.5" stroke="#333" stroke-width="1.0"/>
<rect x="479.0" y="185.25" width="8.8" height="18.25" stroke="#333" stroke-width="1.05" fill="#fff"/>
<line x1="483.4" y1="203.5" x2="483.4" y2="204.7" stroke="#555" stroke-width="0.5"/>
<text x="485.5" y="207.5" font-size="3.6" fill="#666" text-anchor="end" transform="rotate(-45 485.5 207.5)">24+27+</text>
<line x1="497.15" y1="186.5" x2="497.15" y2="194.6" stroke="#333" stroke-width="1.0"/>
<line x1="494.75" y1="186.5" x2="499.55" y2="186.5" stroke="#333" stroke-width="1.0"/>
<rect x="492.75" y="194.6" width="8.8" height="8.900000000000006" stroke="#333" stroke-width="1.05" fill="#fff"/>
<line x1="497.15" y1="203.5" x2="497.15" y2="204.7" stroke="#555" stroke-width="0.5"/>
<text x="499.25" y="207.5" font-size="3.6" fill="#666" text-anchor="end" transform="rotate(-45 499.25 207.5)">24-27+</text>
<line x1="512.15" y1="196.25" x2="512.15" y2="198.4" stroke="#333" stroke-width="1.0"/>
<line x1="509.75" y1="196.25" x2="514.55" y2="196.25" stroke="#333" stroke-width="1.0"/>
<rect x="507.75" y="198.4" width="8.8" height="5.099999999999994" stroke="#333" stroke-width="1.05" fill="#fff"/>
<line x1="512.15" y1="203.5" x2="512.15" y2="204.7" stroke="#555" stroke-width="0.5"/>
<text x="514.25" y="207.5" font-size="3.6" fill="#666" text-anchor="end" transform="rotate(-45 514.25 207.5)">24-27-</text>
<line x1="467.7" y1="162" x2="481.8" y2="162" stroke="#444" stroke-width="0.9"/>
<text x="474.75" y="161.0" font-size="3.4" fill="#666" text-anchor="middle">NS</text>
<line x1="483" y1="162" x2="497.2" y2="162" stroke="#444" stroke-width="0.9"/>
<text x="490.1" y="161.0" font-size="3.4" fill="#666" text-anchor="middle">NS</text>
<line x1="483.8" y1="158" x2="512" y2="158" stroke="#444" stroke-width="0.9"/>
<text x="497.9" y="156.8" font-size="5.2" font-weight="bold" fill="#555" text-anchor="middle">**</text>
<line x1="249.9" y1="225.4" x2="249.9" y2="263.5" stroke="#222" stroke-width="0.9"/>
<line x1="249.9" y1="263.5" x2="304.75" y2="263.5" stroke="#999" stroke-width="0.6"/>
<line x1="248.70000000000002" y1="263.5" x2="249.9" y2="263.5" stroke="#555" stroke-width="0.5"/>
<text x="248.1" y="264.60" font-size="3" fill="#555" text-anchor="end">0</text>
<line x1="248.70000000000002" y1="255.88" x2="249.9" y2="255.88" stroke="#555" stroke-width="0.5"/>
<text x="248.1" y="256.98" font-size="3" fill="#555" text-anchor="end">5</text>
<line x1="248.70000000000002" y1="248.26" x2="249.9" y2="248.26" stroke="#555" stroke-width="0.5"/>
<text x="248.1" y="249.36" font-size="3" fill="#555" text-anchor="end">10</text>
<line x1="248.70000000000002" y1="240.64000000000001" x2="249.9" y2="240.64000000000001" stroke="#555" stroke-width="0.5"/>
<text x="248.1" y="241.74" font-size="3" fill="#555" text-anchor="end">15</text>
<line x1="248.70000000000002" y1="233.02" x2="249.9" y2="233.02" stroke="#555" stroke-width="0.5"/>
<text x="248.1" y="234.12" font-size="3" fill="#555" text-anchor="end">20</text>
<line x1="248.70000000000002" y1="225.4" x2="249.9" y2="225.4" stroke="#555" stroke-width="0.5"/>
<text x="248.1" y="226.50" font-size="3" fill="#555" text-anchor="end">25</text>
<text x="243.3" y="266.5" font-size="3.4" fill="#444" textLength="44.099999999999994" lengthAdjust="spacingAndGlyphs" transform="rotate(-90 243.3 266.5)">IL-10+ cells (% of CD19+ cell subset)</text>
<line x1="256.9" y1="250.25" x2="256.9" y2="257.25" stroke="#333" stroke-width="1.0"/>
<line x1="254.5" y1="250.25" x2="259.3" y2="250.25" stroke="#333" stroke-width="1.0"/>
<rect x="252.5" y="257.25" width="8.8" height="6.25" stroke="#333" stroke-width="1.05" fill="#fff"/>
<line x1="256.9" y1="263.5" x2="256.9" y2="264.7" stroke="#555" stroke-width="0.5"/>
<text x="259" y="267.5" font-size="3.6" fill="#666" text-anchor="end" transform="rotate(-45 259 267.5)">27-38-</text>
<line x1="270.9" y1="250.6" x2="270.9" y2="255" stroke="#333" stroke-width="1.0"/>
<line x1="268.5" y1="250.6" x2="273.3" y2="250.6" stroke="#333" stroke-width="1.0"/>
<rect x="266.5" y="255" width="8.8" height="8.5" stroke="#333" stroke-width="1.05" fill="#fff"/>
<line x1="270.9" y1="263.5" x2="270.9" y2="264.7" stroke="#555" stroke-width="0.5"/>
<text x="273" y="267.5" font-size="3.6" fill="#666" text-anchor="end" transform="rotate(-45 273 267.5)">27+38-</text>
<line x1="285.15" y1="238.75" x2="285.15" y2="248.1" stroke="#333" stroke-width="1.0"/>
<line x1="282.75" y1="238.75" x2="287.55" y2="238.75" stroke="#333" stroke-width="1.0"/>
<rect x="280.75" y="248.1" width="8.8" height="15.400000000000006" stroke="#333" stroke-width="1.05" fill="#fff"/>
<line x1="285.15" y1="263.5" x2="285.15" y2="264.7" stroke="#555" stroke-width="0.5"/>
<text x="287.25" y="267.5" font-size="3.6" fill="#666" text-anchor="end" transform="rotate(-45 287.25 267.5)">27+38+</text>
<line x1="299.15" y1="245.6" x2="299.15" y2="252.25" stroke="#333" stroke-width="1.0"/>
<line x1="296.75" y1="245.6" x2="301.55" y2="245.6" stroke="#333" stroke-width="1.0"/>
<rect x="294.75" y="252.25" width="8.8" height="11.25" stroke="#333" stroke-width="1.05" fill="#fff"/>
<line x1="299.15" y1="263.5" x2="299.15" y2="264.7" stroke="#555" stroke-width="0.5"/>
<text x="301.25" y="267.5" font-size="3.6" fill="#666" text-anchor="end" transform="rotate(-45 301.25 267.5)">27-38+</text>
<line x1="255.4" y1="221.5" x2="283.8" y2="221.5" stroke="#444" stroke-width="0.9"/>
<text x="269.6" y="220.3" font-size="5.2" font-weight="bold" fill="#555" text-anchor="middle">*</text>
<line x1="270.8" y1="225.4" x2="284.6" y2="225.4" stroke="#444" stroke-width="0.9"/>
<text x="277.70000000000005" y="224.20000000000002" font-size="5.2" font-weight="bold" fill="#555" text-anchor="middle">*</text>
<line x1="287" y1="225.4" x2="302.3" y2="225.4" stroke="#444" stroke-width="0.9"/>
<text x="294.65" y="224.4" font-size="3.4" fill="#666" text-anchor="middle">NS</text>
<line x1="319.25" y1="224" x2="319.25" y2="264.4" stroke="#222" stroke-width="0.9"/>
<line x1="319.25" y1="264.4" x2="376.4" y2="264.4" stroke="#999" stroke-width="0.6"/>
<line x1="318.05" y1="264.4" x2="319.25" y2="264.4" stroke="#555" stroke-width="0.5"/>
<text x="317.45" y="265.50" font-size="3" fill="#555" text-anchor="end">0</text>
<line x1="318.05" y1="256.32" x2="319.25" y2="256.32" stroke="#555" stroke-width="0.5"/>
<text x="317.45" y="257.42" font-size="3" fill="#555" text-anchor="end">5</text>
<line x1="318.05" y1="248.23999999999998" x2="319.25" y2="248.23999999999998" stroke="#555" stroke-width="0.5"/>
<text x="317.45" y="249.34" font-size="3" fill="#555" text-anchor="end">10</text>
<line x1="318.05" y1="240.16" x2="319.25" y2="240.16" stroke="#555" stroke-width="0.5"/>
<text x="317.45" y="241.26" font-size="3" fill="#555" text-anchor="end">15</text>
<line x1="318.05" y1="232.07999999999998" x2="319.25" y2="232.07999999999998" stroke="#555" stroke-width="0.5"/>
<text x="317.45" y="233.18" font-size="3" fill="#555" text-anchor="end">20</text>
<line x1="318.05" y1="224.0" x2="319.25" y2="224.0" stroke="#555" stroke-width="0.5"/>
<text x="317.45" y="225.10" font-size="3" fill="#555" text-anchor="end">25</text>
<text x="312.65" y="267.4" font-size="3.4" fill="#444" textLength="46.39999999999998" lengthAdjust="spacingAndGlyphs" transform="rotate(-90 312.65 267.4)">IL-10+ cells (% of CD19+ cell subset)</text>
<line x1="326.65" y1="261" x2="326.65" y2="263.1" stroke="#333" stroke-width="1.0"/>
<line x1="324.25" y1="261" x2="329.05" y2="261" stroke="#333" stroke-width="1.0"/>
<rect x="322.25" y="263.1" width="8.8" height="1.2999999999999545" stroke="#333" stroke-width="1.05" fill="#fff"/>
<line x1="326.65" y1="264.4" x2="326.65" y2="265.59999999999997" stroke="#555" stroke-width="0.5"/>
<text x="328.75" y="268.4" font-size="3.6" fill="#666" text-anchor="end" transform="rotate(-45 328.75 268.4)">27-38-</text>
<line x1="341.4" y1="253.5" x2="341.4" y2="261" stroke="#333" stroke-width="1.0"/>
<line x1="339.0" y1="253.5" x2="343.8" y2="253.5" stroke="#333" stroke-width="1.0"/>
<rect x="337.0" y="261" width="8.8" height="3.3999999999999773" stroke="#333" stroke-width="1.05" fill="#fff"/>
<line x1="341.4" y1="264.4" x2="341.4" y2="265.59999999999997" stroke="#555" stroke-width="0.5"/>
<text x="343.5" y="268.4" font-size="3.6" fill="#666" text-anchor="end" transform="rotate(-45 343.5 268.4)">27+38-</text>
<line x1="356.15" y1="241.25" x2="356.15" y2="251.5" stroke="#333" stroke-width="1.0"/>
<line x1="353.75" y1="241.25" x2="358.55" y2="241.25" stroke="#333" stroke-width="1.0"/>
<rect x="351.75" y="251.5" width="8.8" height="12.899999999999977" stroke="#333" stroke-width="1.05" fill="#fff"/>
<line x1="356.15" y1="264.4" x2="356.15" y2="265.59999999999997" stroke="#555" stroke-width="0.5"/>
<text x="358.25" y="268.4" font-size="3.6" fill="#666" text-anchor="end" transform="rotate(-45 358.25 268.4)">27+38+</text>
<line x1="370.79999999999995" y1="256.25" x2="370.79999999999995" y2="263.5" stroke="#333" stroke-width="1.0"/>
<line x1="368.4" y1="256.25" x2="373.2" y2="256.25" stroke="#333" stroke-width="1.0"/>
<rect x="366.4" y="263.5" width="8.8" height="0.8999999999999773" stroke="#333" stroke-width="1.05" fill="#fff"/>
<line x1="370.79999999999995" y1="264.4" x2="370.79999999999995" y2="265.59999999999997" stroke="#555" stroke-width="0.5"/>
<text x="372.9" y="268.4" font-size="3.6" fill="#666" text-anchor="end" transform="rotate(-45 372.9 268.4)">27-38+</text>
<line x1="325.8" y1="218" x2="355.8" y2="218" stroke="#444" stroke-width="0.9"/>
<text x="340.8" y="216.8" font-size="5.2" font-weight="bold" fill="#555" text-anchor="middle">*</text>
<line x1="338.8" y1="222.3" x2="354" y2="222.3" stroke="#444" stroke-width="0.9"/>
<text x="346.4" y="221.3" font-size="3.4" fill="#666" text-anchor="middle">NS</text>
<line x1="355.8" y1="222.3" x2="371" y2="222.3" stroke="#444" stroke-width="0.9"/>
<text x="363.4" y="221.10000000000002" font-size="5.2" font-weight="bold" fill="#555" text-anchor="middle">*</text>
<line x1="392.1" y1="223.5" x2="392.1" y2="262.75" stroke="#222" stroke-width="0.9"/>
<line x1="392.1" y1="262.75" x2="448.0" y2="262.75" stroke="#999" stroke-width="0.6"/>
<line x1="390.90000000000003" y1="262.75" x2="392.1" y2="262.75" stroke="#555" stroke-width="0.5"/>
<text x="390.3" y="263.85" font-size="3" fill="#555" text-anchor="end">0</text>
<line x1="390.90000000000003" y1="254.9" x2="392.1" y2="254.9" stroke="#555" stroke-width="0.5"/>
<text x="390.3" y="256.00" font-size="3" fill="#555" text-anchor="end">5</text>
<line x1="390.90000000000003" y1="247.05" x2="392.1" y2="247.05" stroke="#555" stroke-width="0.5"/>
<text x="390.3" y="248.15" font-size="3" fill="#555" text-anchor="end">10</text>
<line x1="390.90000000000003" y1="239.2" x2="392.1" y2="239.2" stroke="#555" stroke-width="0.5"/>
<text x="390.3" y="240.30" font-size="3" fill="#555" text-anchor="end">15</text>
<line x1="390.90000000000003" y1="231.35" x2="392.1" y2="231.35" stroke="#555" stroke-width="0.5"/>
<text x="390.3" y="232.45" font-size="3" fill="#555" text-anchor="end">20</text>
<line x1="390.90000000000003" y1="223.5" x2="392.1" y2="223.5" stroke="#555" stroke-width="0.5"/>
<text x="390.3" y="224.60" font-size="3" fill="#555" text-anchor="end">25</text>
<text x="385.5" y="265.75" font-size="3.4" fill="#444" textLength="45.25" lengthAdjust="spacingAndGlyphs" transform="rotate(-90 385.5 265.75)">IL-10+ cells (% of CD19+ cell subset)</text>
<line x1="398.29999999999995" y1="251.9" x2="398.29999999999995" y2="256.25" stroke="#333" stroke-width="1.0"/>
<line x1="395.9" y1="251.9" x2="400.7" y2="251.9" stroke="#333" stroke-width="1.0"/>
<rect x="393.9" y="256.25" width="8.8" height="6.5" stroke="#333" stroke-width="1.05" fill="#fff"/>
<line x1="398.29999999999995" y1="262.75" x2="398.29999999999995" y2="263.95" stroke="#555" stroke-width="0.5"/>
<text x="400.4" y="266.75" font-size="3.6" fill="#666" text-anchor="end" transform="rotate(-45 400.4 266.75)">27-38-</text>
<line x1="413.29999999999995" y1="250.6" x2="413.29999999999995" y2="253.5" stroke="#333" stroke-width="1.0"/>
<line x1="410.9" y1="250.6" x2="415.7" y2="250.6" stroke="#333" stroke-width="1.0"/>
<rect x="408.9" y="253.5" width="8.8" height="9.25" stroke="#333" stroke-width="1.05" fill="#fff"/>
<line x1="413.29999999999995" y1="262.75" x2="413.29999999999995" y2="263.95" stroke="#555" stroke-width="0.5"/>
<text x="415.4" y="266.75" font-size="3.6" fill="#666" text-anchor="end" transform="rotate(-45 415.4 266.75)">27+38-</text>
<line x1="428.29999999999995" y1="235.6" x2="428.29999999999995" y2="240.6" stroke="#333" stroke-width="1.0"/>
<line x1="425.9" y1="235.6" x2="430.7" y2="235.6" stroke="#333" stroke-width="1.0"/>
<rect x="423.9" y="240.6" width="8.8" height="22.150000000000006" stroke="#333" stroke-width="1.05" fill="#fff"/>
<line x1="428.29999999999995" y1="262.75" x2="428.29999999999995" y2="263.95" stroke="#555" stroke-width="0.5"/>
<text x="430.4" y="266.75" font-size="3.6" fill="#666" text-anchor="end" transform="rotate(-45 430.4 266.75)">27+38+</text>
<line x1="442.4" y1="247.5" x2="442.4" y2="252.75" stroke="#333" stroke-width="1.0"/>
<line x1="440.0" y1="247.5" x2="444.8" y2="247.5" stroke="#333" stroke-width="1.0"/>
<rect x="438.0" y="252.75" width="8.8" height="10.0" stroke="#333" stroke-width="1.05" fill="#fff"/>
<line x1="442.4" y1="262.75" x2="442.4" y2="263.95" stroke="#555" stroke-width="0.5"/>
<text x="444.5" y="266.75" font-size="3.6" fill="#666" text-anchor="end" transform="rotate(-45 444.5 266.75)">27-38+</text>
<line x1="398" y1="219.5" x2="427.3" y2="219.5" stroke="#444" stroke-width="0.9"/>
<text x="412.65" y="218.3" font-size="5.2" font-weight="bold" fill="#555" text-anchor="middle">**</text>
<line x1="415.3" y1="224.6" x2="428.8" y2="224.6" stroke="#444" stroke-width="0.9"/>
<text x="422.05" y="223.6" font-size="3.4" fill="#666" text-anchor="middle">NS</text>
<line x1="430.7" y1="224.6" x2="445" y2="224.6" stroke="#444" stroke-width="0.9"/>
<text x="437.85" y="223.6" font-size="3.4" fill="#666" text-anchor="middle">NS</text>
<line x1="462.75" y1="225.4" x2="462.75" y2="264" stroke="#222" stroke-width="0.9"/>
<line x1="462.75" y1="264" x2="518.0" y2="264" stroke="#999" stroke-width="0.6"/>
<line x1="461.55" y1="264.0" x2="462.75" y2="264.0" stroke="#555" stroke-width="0.5"/>
<text x="460.95" y="265.10" font-size="3" fill="#555" text-anchor="end">0</text>
<line x1="461.55" y1="256.28" x2="462.75" y2="256.28" stroke="#555" stroke-width="0.5"/>
<text x="460.95" y="257.38" font-size="3" fill="#555" text-anchor="end">5</text>
<line x1="461.55" y1="248.56" x2="462.75" y2="248.56" stroke="#555" stroke-width="0.5"/>
<text x="460.95" y="249.66" font-size="3" fill="#555" text-anchor="end">10</text>
<line x1="461.55" y1="240.84" x2="462.75" y2="240.84" stroke="#555" stroke-width="0.5"/>
<text x="460.95" y="241.94" font-size="3" fill="#555" text-anchor="end">15</text>
<line x1="461.55" y1="233.12" x2="462.75" y2="233.12" stroke="#555" stroke-width="0.5"/>
<text x="460.95" y="234.22" font-size="3" fill="#555" text-anchor="end">20</text>
<line x1="461.55" y1="225.4" x2="462.75" y2="225.4" stroke="#555" stroke-width="0.5"/>
<text x="460.95" y="226.50" font-size="3" fill="#555" text-anchor="end">25</text>
<text x="456.15" y="267" font-size="3.4" fill="#444" textLength="44.599999999999994" lengthAdjust="spacingAndGlyphs" transform="rotate(-90 456.15 267)">IL-10+ cells (% of CD19+ cell subset)</text>
<line x1="469.29999999999995" y1="255.25" x2="469.29999999999995" y2="256.5" stroke="#333" stroke-width="1.0"/>
<line x1="466.9" y1="255.25" x2="471.7" y2="255.25" stroke="#333" stroke-width="1.0"/>
<rect x="464.9" y="256.5" width="8.8" height="7.5" stroke="#333" stroke-width="1.05" fill="#fff"/>
<line x1="469.29999999999995" y1="264" x2="469.29999999999995" y2="265.2" stroke="#555" stroke-width="0.5"/>
<text x="471.4" y="268" font-size="3.6" fill="#666" text-anchor="end" transform="rotate(-45 471.4 268)">27-38-</text>
<line x1="483.65" y1="243.5" x2="483.65" y2="249.4" stroke="#333" stroke-width="1.0"/>
<line x1="481.25" y1="243.5" x2="486.05" y2="243.5" stroke="#333" stroke-width="1.0"/>
<rect x="479.25" y="249.4" width="8.8" height="14.599999999999994" stroke="#333" stroke-width="1.05" fill="#fff"/>
<line x1="483.65" y1="264" x2="483.65" y2="265.2" stroke="#555" stroke-width="0.5"/>
<text x="485.75" y="268" font-size="3.6" fill="#666" text-anchor="end" transform="rotate(-45 485.75 268)">27+38-</text>
<line x1="498.4" y1="232.8" x2="498.4" y2="245.6" stroke="#333" stroke-width="1.0"/>
<line x1="496.0" y1="232.8" x2="500.8" y2="232.8" stroke="#333" stroke-width="1.0"/>
<rect x="494.0" y="245.6" width="8.8" height="18.400000000000006" stroke="#333" stroke-width="1.05" fill="#fff"/>
<line x1="498.4" y1="264" x2="498.4" y2="265.2" stroke="#555" stroke-width="0.5"/>
<text x="500.5" y="268" font-size="3.6" fill="#666" text-anchor="end" transform="rotate(-45 500.5 268)">27+38+</text>
<line x1="512.4" y1="246.5" x2="512.4" y2="254.4" stroke="#333" stroke-width="1.0"/>
<line x1="510.0" y1="246.5" x2="514.8" y2="246.5" stroke="#333" stroke-width="1.0"/>
<rect x="508.0" y="254.4" width="8.8" height="9.599999999999994" stroke="#333" stroke-width="1.05" fill="#fff"/>
<line x1="512.4" y1="264" x2="512.4" y2="265.2" stroke="#555" stroke-width="0.5"/>
<text x="514.5" y="268" font-size="3.6" fill="#666" text-anchor="end" transform="rotate(-45 514.5 268)">27-38+</text>
<line x1="470.8" y1="221" x2="499.2" y2="221" stroke="#444" stroke-width="0.9"/>
<text x="485.0" y="219.8" font-size="5.2" font-weight="bold" fill="#555" text-anchor="middle">***</text>
<line x1="484.3" y1="226.6" x2="498.5" y2="226.6" stroke="#444" stroke-width="0.9"/>
<text x="491.4" y="225.6" font-size="3.4" fill="#666" text-anchor="middle">NS</text>
<line x1="500.8" y1="226.6" x2="516" y2="226.6" stroke="#444" stroke-width="0.9"/>
<text x="508.4" y="225.4" font-size="5.2" font-weight="bold" fill="#555" text-anchor="middle">*</text>
<line x1="249.5" y1="290.8" x2="249.5" y2="328.75" stroke="#222" stroke-width="0.9"/>
<line x1="249.5" y1="328.75" x2="304.75" y2="328.75" stroke="#999" stroke-width="0.6"/>
<line x1="248.3" y1="328.75" x2="249.5" y2="328.75" stroke="#555" stroke-width="0.5"/>
<text x="247.7" y="329.85" font-size="3" fill="#555" text-anchor="end">0</text>
<line x1="248.3" y1="321.16" x2="249.5" y2="321.16" stroke="#555" stroke-width="0.5"/>
<text x="247.7" y="322.26" font-size="3" fill="#555" text-anchor="end">5</text>
<line x1="248.3" y1="313.57" x2="249.5" y2="313.57" stroke="#555" stroke-width="0.5"/>
<text x="247.7" y="314.67" font-size="3" fill="#555" text-anchor="end">10</text>
<line x1="248.3" y1="305.98" x2="249.5" y2="305.98" stroke="#555" stroke-width="0.5"/>
<text x="247.7" y="307.08" font-size="3" fill="#555" text-anchor="end">15</text>
<line x1="248.3" y1="298.39" x2="249.5" y2="298.39" stroke="#555" stroke-width="0.5"/>
<text x="247.7" y="299.49" font-size="3" fill="#555" text-anchor="end">20</text>
<line x1="248.3" y1="290.8" x2="249.5" y2="290.8" stroke="#555" stroke-width="0.5"/>
<text x="247.7" y="291.90" font-size="3" fill="#555" text-anchor="end">25</text>
<text x="242.9" y="331.75" font-size="3.4" fill="#444" textLength="43.94999999999999" lengthAdjust="spacingAndGlyphs" transform="rotate(-90 242.9 331.75)">IL-10+ cells (% of CD19+ cell subset)</text>
<line x1="256.4" y1="317.25" x2="256.4" y2="321.25" stroke="#333" stroke-width="1.0"/>
<line x1="254.0" y1="317.25" x2="258.8" y2="317.25" stroke="#333" stroke-width="1.0"/>
<rect x="252.0" y="321.25" width="8.8" height="7.5" stroke="#333" stroke-width="1.05" fill="#fff"/>
<line x1="256.4" y1="328.75" x2="256.4" y2="329.95" stroke="#555" stroke-width="0.5"/>
<text x="258.5" y="332.75" font-size="3.6" fill="#666" text-anchor="end" transform="rotate(-45 258.5 332.75)">mature</text>
<line x1="270.15" y1="310.6" x2="270.15" y2="314.4" stroke="#333" stroke-width="1.0"/>
<line x1="267.75" y1="310.6" x2="272.55" y2="310.6" stroke="#333" stroke-width="1.0"/>
<rect x="265.75" y="314.4" width="8.8" height="14.350000000000023" stroke="#333" stroke-width="1.05" fill="#fff"/>
<line x1="270.15" y1="328.75" x2="270.15" y2="329.95" stroke="#555" stroke-width="0.5"/>
<text x="272.25" y="332.75" font-size="3.6" fill="#666" text-anchor="end" transform="rotate(-45 272.25 332.75)">memory</text>
<line x1="285.15" y1="296" x2="285.15" y2="308.5" stroke="#333" stroke-width="1.0"/>
<line x1="282.75" y1="296" x2="287.55" y2="296" stroke="#333" stroke-width="1.0"/>
<rect x="280.75" y="308.5" width="8.8" height="20.25" stroke="#333" stroke-width="1.05" fill="#fff"/>
<line x1="285.15" y1="328.75" x2="285.15" y2="329.95" stroke="#555" stroke-width="0.5"/>
<text x="287.25" y="332.75" font-size="3.6" fill="#666" text-anchor="end" transform="rotate(-45 287.25 332.75)">plasmablasts</text>
<line x1="299.15" y1="309.4" x2="299.15" y2="315.6" stroke="#333" stroke-width="1.0"/>
<line x1="296.75" y1="309.4" x2="301.55" y2="309.4" stroke="#333" stroke-width="1.0"/>
<rect x="294.75" y="315.6" width="8.8" height="13.149999999999977" stroke="#333" stroke-width="1.05" fill="#fff"/>
<line x1="299.15" y1="328.75" x2="299.15" y2="329.95" stroke="#555" stroke-width="0.5"/>
<text x="301.25" y="332.75" font-size="3.6" fill="#666" text-anchor="end" transform="rotate(-45 301.25 332.75)">transitional</text>
<line x1="255.8" y1="284" x2="283" y2="284" stroke="#444" stroke-width="0.9"/>
<text x="269.4" y="282.8" font-size="5.2" font-weight="bold" fill="#555" text-anchor="middle">***</text>
<line x1="270" y1="289.6" x2="284.6" y2="289.6" stroke="#444" stroke-width="0.9"/>
<text x="277.3" y="288.6" font-size="3.4" fill="#666" text-anchor="middle">NS</text>
<line x1="286" y1="289.6" x2="301.5" y2="289.6" stroke="#444" stroke-width="0.9"/>
<text x="293.75" y="288.40000000000003" font-size="5.2" font-weight="bold" fill="#555" text-anchor="middle">*</text>
<line x1="319.25" y1="287.7" x2="319.25" y2="329.4" stroke="#222" stroke-width="0.9"/>
<line x1="319.25" y1="329.4" x2="377.5" y2="329.4" stroke="#999" stroke-width="0.6"/>
<line x1="318.05" y1="329.4" x2="319.25" y2="329.4" stroke="#555" stroke-width="0.5"/>
<text x="317.45" y="330.50" font-size="3" fill="#555" text-anchor="end">0</text>
<line x1="318.05" y1="321.06" x2="319.25" y2="321.06" stroke="#555" stroke-width="0.5"/>
<text x="317.45" y="322.16" font-size="3" fill="#555" text-anchor="end">5</text>
<line x1="318.05" y1="312.71999999999997" x2="319.25" y2="312.71999999999997" stroke="#555" stroke-width="0.5"/>
<text x="317.45" y="313.82" font-size="3" fill="#555" text-anchor="end">10</text>
<line x1="318.05" y1="304.38" x2="319.25" y2="304.38" stroke="#555" stroke-width="0.5"/>
<text x="317.45" y="305.48" font-size="3" fill="#555" text-anchor="end">15</text>
<line x1="318.05" y1="296.03999999999996" x2="319.25" y2="296.03999999999996" stroke="#555" stroke-width="0.5"/>
<text x="317.45" y="297.14" font-size="3" fill="#555" text-anchor="end">20</text>
<line x1="318.05" y1="287.7" x2="319.25" y2="287.7" stroke="#555" stroke-width="0.5"/>
<text x="317.45" y="288.80" font-size="3" fill="#555" text-anchor="end">25</text>
<text x="312.65" y="332.4" font-size="3.4" fill="#444" textLength="47.69999999999999" lengthAdjust="spacingAndGlyphs" transform="rotate(-90 312.65 332.4)">IL-10+ cells (% of CD19+ cell subset)</text>
<line x1="326.4" y1="325.6" x2="326.4" y2="326.9" stroke="#333" stroke-width="1.0"/>
<line x1="324.0" y1="325.6" x2="328.8" y2="325.6" stroke="#333" stroke-width="1.0"/>
<rect x="322.0" y="326.9" width="8.8" height="2.5" stroke="#333" stroke-width="1.05" fill="#fff"/>
<line x1="326.4" y1="329.4" x2="326.4" y2="330.59999999999997" stroke="#555" stroke-width="0.5"/>
<text x="328.5" y="333.4" font-size="3.6" fill="#666" text-anchor="end" transform="rotate(-45 328.5 333.4)">mature</text>
<line x1="341.4" y1="317.5" x2="341.4" y2="323.5" stroke="#333" stroke-width="1.0"/>
<line x1="339.0" y1="317.5" x2="343.8" y2="317.5" stroke="#333" stroke-width="1.0"/>
<rect x="337.0" y="323.5" width="8.8" height="5.899999999999977" stroke="#333" stroke-width="1.05" fill="#fff"/>
<line x1="341.4" y1="329.4" x2="341.4" y2="330.59999999999997" stroke="#555" stroke-width="0.5"/>
<text x="343.5" y="333.4" font-size="3.6" fill="#666" text-anchor="end" transform="rotate(-45 343.5 333.4)">memory</text>
<line x1="356.9" y1="313.5" x2="356.9" y2="319.4" stroke="#333" stroke-width="1.0"/>
<line x1="354.5" y1="313.5" x2="359.3" y2="313.5" stroke="#333" stroke-width="1.0"/>
<rect x="352.5" y="319.4" width="8.8" height="10.0" stroke="#333" stroke-width="1.05" fill="#fff"/>
<line x1="356.9" y1="329.4" x2="356.9" y2="330.59999999999997" stroke="#555" stroke-width="0.5"/>
<text x="359" y="333.4" font-size="3.6" fill="#666" text-anchor="end" transform="rotate(-45 359 333.4)">plasmablasts</text>
<line x1="371.9" y1="316.25" x2="371.9" y2="321.5" stroke="#333" stroke-width="1.0"/>
<line x1="369.5" y1="316.25" x2="374.3" y2="316.25" stroke="#333" stroke-width="1.0"/>
<rect x="367.5" y="321.5" width="8.8" height="7.899999999999977" stroke="#333" stroke-width="1.05" fill="#fff"/>
<line x1="371.9" y1="329.4" x2="371.9" y2="330.59999999999997" stroke="#555" stroke-width="0.5"/>
<text x="374" y="333.4" font-size="3.6" fill="#666" text-anchor="end" transform="rotate(-45 374 333.4)">transitional</text>
<line x1="326.5" y1="282.8" x2="356.5" y2="282.8" stroke="#444" stroke-width="0.9"/>
<text x="341.5" y="281.6" font-size="5.2" font-weight="bold" fill="#555" text-anchor="middle">**</text>
<line x1="341" y1="287.4" x2="356.5" y2="287.4" stroke="#444" stroke-width="0.9"/>
<text x="348.75" y="286.4" font-size="3.4" fill="#666" text-anchor="middle">NS</text>
<line x1="358" y1="287.4" x2="373.5" y2="287.4" stroke="#444" stroke-width="0.9"/>
<text x="365.75" y="286.4" font-size="3.4" fill="#666" text-anchor="middle">NS</text>
<line x1="391.5" y1="289.2" x2="391.5" y2="328.5" stroke="#222" stroke-width="0.9"/>
<line x1="391.5" y1="328.5" x2="447.5" y2="328.5" stroke="#999" stroke-width="0.6"/>
<line x1="390.3" y1="328.5" x2="391.5" y2="328.5" stroke="#555" stroke-width="0.5"/>
<text x="389.7" y="329.60" font-size="3" fill="#555" text-anchor="end">0</text>
<line x1="390.3" y1="320.64" x2="391.5" y2="320.64" stroke="#555" stroke-width="0.5"/>
<text x="389.7" y="321.74" font-size="3" fill="#555" text-anchor="end">5</text>
<line x1="390.3" y1="312.78" x2="391.5" y2="312.78" stroke="#555" stroke-width="0.5"/>
<text x="389.7" y="313.88" font-size="3" fill="#555" text-anchor="end">10</text>
<line x1="390.3" y1="304.92" x2="391.5" y2="304.92" stroke="#555" stroke-width="0.5"/>
<text x="389.7" y="306.02" font-size="3" fill="#555" text-anchor="end">15</text>
<line x1="390.3" y1="297.06" x2="391.5" y2="297.06" stroke="#555" stroke-width="0.5"/>
<text x="389.7" y="298.16" font-size="3" fill="#555" text-anchor="end">20</text>
<line x1="390.3" y1="289.2" x2="391.5" y2="289.2" stroke="#555" stroke-width="0.5"/>
<text x="389.7" y="290.30" font-size="3" fill="#555" text-anchor="end">25</text>
<text x="384.9" y="331.5" font-size="3.4" fill="#444" textLength="45.30000000000001" lengthAdjust="spacingAndGlyphs" transform="rotate(-90 384.9 331.5)">IL-10+ cells (% of CD19+ cell subset)</text>
<line x1="397.9" y1="318.5" x2="397.9" y2="322.5" stroke="#333" stroke-width="1.0"/>
<line x1="395.5" y1="318.5" x2="400.3" y2="318.5" stroke="#333" stroke-width="1.0"/>
<rect x="393.5" y="322.5" width="8.8" height="6.0" stroke="#333" stroke-width="1.05" fill="#fff"/>
<line x1="397.9" y1="328.5" x2="397.9" y2="329.7" stroke="#555" stroke-width="0.5"/>
<text x="400" y="332.5" font-size="3.6" fill="#666" text-anchor="end" transform="rotate(-45 400 332.5)">mature</text>
<line x1="412.4" y1="309.75" x2="412.4" y2="320.25" stroke="#333" stroke-width="1.0"/>
<line x1="410.0" y1="309.75" x2="414.8" y2="309.75" stroke="#333" stroke-width="1.0"/>
<rect x="408.0" y="320.25" width="8.8" height="8.25" stroke="#333" stroke-width="1.05" fill="#fff"/>
<line x1="412.4" y1="328.5" x2="412.4" y2="329.7" stroke="#555" stroke-width="0.5"/>
<text x="414.5" y="332.5" font-size="3.6" fill="#666" text-anchor="end" transform="rotate(-45 414.5 332.5)">memory</text>
<line x1="427.4" y1="297.2" x2="427.4" y2="306.9" stroke="#333" stroke-width="1.0"/>
<line x1="425.0" y1="297.2" x2="429.8" y2="297.2" stroke="#333" stroke-width="1.0"/>
<rect x="423.0" y="306.9" width="8.8" height="21.600000000000023" stroke="#333" stroke-width="1.05" fill="#fff"/>
<line x1="427.4" y1="328.5" x2="427.4" y2="329.7" stroke="#555" stroke-width="0.5"/>
<text x="429.5" y="332.5" font-size="3.6" fill="#666" text-anchor="end" transform="rotate(-45 429.5 332.5)">plasmablasts</text>
<line x1="441.9" y1="311.25" x2="441.9" y2="315.25" stroke="#333" stroke-width="1.0"/>
<line x1="439.5" y1="311.25" x2="444.3" y2="311.25" stroke="#333" stroke-width="1.0"/>
<rect x="437.5" y="315.25" width="8.8" height="13.25" stroke="#333" stroke-width="1.05" fill="#fff"/>
<line x1="441.9" y1="328.5" x2="441.9" y2="329.7" stroke="#555" stroke-width="0.5"/>
<text x="444" y="332.5" font-size="3.6" fill="#666" text-anchor="end" transform="rotate(-45 444 332.5)">transitional</text>
<line x1="399.6" y1="285" x2="427.3" y2="285" stroke="#444" stroke-width="0.9"/>
<text x="413.45000000000005" y="283.8" font-size="5.2" font-weight="bold" fill="#555" text-anchor="middle">**</text>
<line x1="415.3" y1="289.5" x2="428" y2="289.5" stroke="#444" stroke-width="0.9"/>
<text x="421.65" y="288.5" font-size="3.4" fill="#666" text-anchor="middle">NS</text>
<line x1="430" y1="289.5" x2="443" y2="289.5" stroke="#444" stroke-width="0.9"/>
<text x="436.5" y="288.5" font-size="3.4" fill="#666" text-anchor="middle">NS</text>
<line x1="462.75" y1="290" x2="462.75" y2="328.5" stroke="#222" stroke-width="0.9"/>
<line x1="462.75" y1="328.5" x2="518.0" y2="328.5" stroke="#999" stroke-width="0.6"/>
<line x1="461.55" y1="328.5" x2="462.75" y2="328.5" stroke="#555" stroke-width="0.5"/>
<text x="460.95" y="329.60" font-size="3" fill="#555" text-anchor="end">0</text>
<line x1="461.55" y1="320.8" x2="462.75" y2="320.8" stroke="#555" stroke-width="0.5"/>
<text x="460.95" y="321.90" font-size="3" fill="#555" text-anchor="end">5</text>
<line x1="461.55" y1="313.1" x2="462.75" y2="313.1" stroke="#555" stroke-width="0.5"/>
<text x="460.95" y="314.20" font-size="3" fill="#555" text-anchor="end">10</text>
<line x1="461.55" y1="305.4" x2="462.75" y2="305.4" stroke="#555" stroke-width="0.5"/>
<text x="460.95" y="306.50" font-size="3" fill="#555" text-anchor="end">15</text>
<line x1="461.55" y1="297.7" x2="462.75" y2="297.7" stroke="#555" stroke-width="0.5"/>
<text x="460.95" y="298.80" font-size="3" fill="#555" text-anchor="end">20</text>
<line x1="461.55" y1="290.0" x2="462.75" y2="290.0" stroke="#555" stroke-width="0.5"/>
<text x="460.95" y="291.10" font-size="3" fill="#555" text-anchor="end">25</text>
<text x="456.15" y="331.5" font-size="3.4" fill="#444" textLength="44.5" lengthAdjust="spacingAndGlyphs" transform="rotate(-90 456.15 331.5)">IL-10+ cells (% of CD19+ cell subset)</text>
<line x1="469.9" y1="317.5" x2="469.9" y2="320.25" stroke="#333" stroke-width="1.0"/>
<line x1="467.5" y1="317.5" x2="472.3" y2="317.5" stroke="#333" stroke-width="1.0"/>
<rect x="465.5" y="320.25" width="8.8" height="8.25" stroke="#333" stroke-width="1.05" fill="#fff"/>
<line x1="469.9" y1="328.5" x2="469.9" y2="329.7" stroke="#555" stroke-width="0.5"/>
<text x="472" y="332.5" font-size="3.6" fill="#666" text-anchor="end" transform="rotate(-45 472 332.5)">mature</text>
<line x1="484.29999999999995" y1="307.5" x2="484.29999999999995" y2="312.25" stroke="#333" stroke-width="1.0"/>
<line x1="481.9" y1="307.5" x2="486.7" y2="307.5" stroke="#333" stroke-width="1.0"/>
<rect x="479.9" y="312.25" width="8.8" height="16.25" stroke="#333" stroke-width="1.05" fill="#fff"/>
<line x1="484.29999999999995" y1="328.5" x2="484.29999999999995" y2="329.7" stroke="#555" stroke-width="0.5"/>
<text x="486.4" y="332.5" font-size="3.6" fill="#666" text-anchor="end" transform="rotate(-45 486.4 332.5)">memory</text>
<line x1="498.4" y1="293" x2="498.4" y2="301.25" stroke="#333" stroke-width="1.0"/>
<line x1="496.0" y1="293" x2="500.8" y2="293" stroke="#333" stroke-width="1.0"/>
<rect x="494.0" y="301.25" width="8.8" height="27.25" stroke="#333" stroke-width="1.05" fill="#fff"/>
<line x1="498.4" y1="328.5" x2="498.4" y2="329.7" stroke="#555" stroke-width="0.5"/>
<text x="500.5" y="332.5" font-size="3.6" fill="#666" text-anchor="end" transform="rotate(-45 500.5 332.5)">plasmablasts</text>
<line x1="512.4" y1="300.3" x2="512.4" y2="311.5" stroke="#333" stroke-width="1.0"/>
<line x1="510.0" y1="300.3" x2="514.8" y2="300.3" stroke="#333" stroke-width="1.0"/>
<rect x="508.0" y="311.5" width="8.8" height="17.0" stroke="#333" stroke-width="1.05" fill="#fff"/>
<line x1="512.4" y1="328.5" x2="512.4" y2="329.7" stroke="#555" stroke-width="0.5"/>
<text x="514.5" y="332.5" font-size="3.6" fill="#666" text-anchor="end" transform="rotate(-45 514.5 332.5)">transitional</text>
<line x1="469.2" y1="284.6" x2="498.5" y2="284.6" stroke="#444" stroke-width="0.9"/>
<text x="483.85" y="283.40000000000003" font-size="5.2" font-weight="bold" fill="#555" text-anchor="middle">***</text>
<line x1="483" y1="289.5" x2="498.5" y2="289.5" stroke="#444" stroke-width="0.9"/>
<text x="490.75" y="288.3" font-size="5.2" font-weight="bold" fill="#555" text-anchor="middle">**</text>
<line x1="500.3" y1="289.5" x2="516" y2="289.5" stroke="#444" stroke-width="0.9"/>
<text x="508.15" y="288.3" font-size="5.2" font-weight="bold" fill="#555" text-anchor="middle">*</text>
</svg>
</body></html>
